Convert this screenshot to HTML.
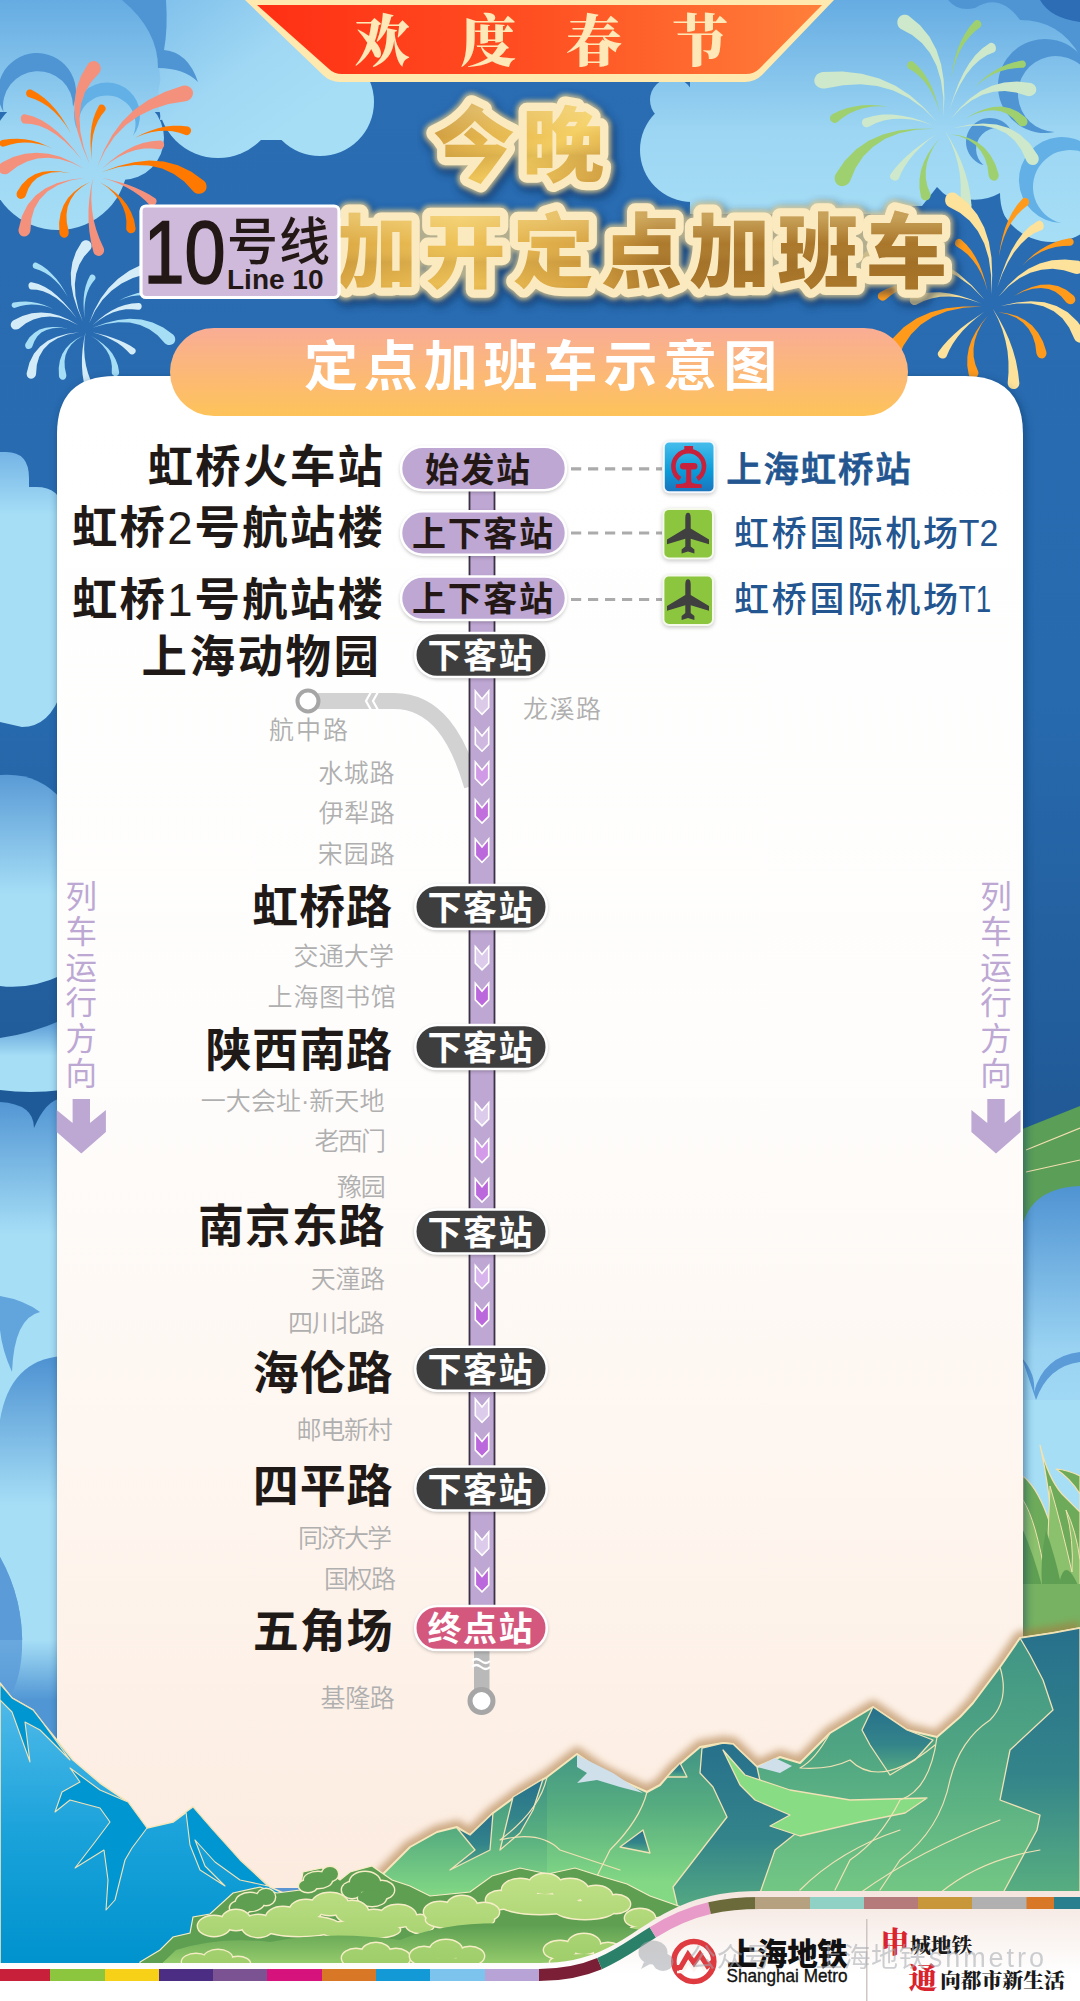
<!DOCTYPE html>
<html lang="zh-CN">
<head>
<meta charset="utf-8">
<title>10号线 定点加班车示意图</title>
<style>
html,body{margin:0;padding:0;background:#2a6cb0;}
body{width:1080px;height:2001px;overflow:hidden;position:relative;font-family:"Liberation Sans", "Noto Sans CJK SC", sans-serif;}
svg{display:block;position:absolute;left:0;top:0;}
text{font-family:"Liberation Sans", "Noto Sans CJK SC", sans-serif;}
.serif{font-family:"Liberation Serif", "Noto Serif CJK SC", serif;}
</style>
</head>
<body>
<svg width="1080" height="2001" viewBox="0 0 1080 2001">
<defs>
<linearGradient id="gBg" x1="0" y1="0" x2="0" y2="1">
 <stop offset="0" stop-color="#2a6db3"/><stop offset="0.35" stop-color="#276aae"/><stop offset="0.55" stop-color="#215a97"/><stop offset="1" stop-color="#215a97"/>
</linearGradient>
<linearGradient id="gCloudT" x1="0" y1="0" x2="0" y2="240" gradientUnits="userSpaceOnUse">
 <stop offset="0" stop-color="#66acE2"/><stop offset="0.55" stop-color="#9dd6f3"/><stop offset="1" stop-color="#a6def6"/>
</linearGradient>
<linearGradient id="gBanner" x1="0" y1="0" x2="1" y2="0">
 <stop offset="0" stop-color="#ff2f14"/><stop offset="0.5" stop-color="#ff5022"/><stop offset="1" stop-color="#ff7f3a"/>
</linearGradient>
<linearGradient id="gGold" x1="0.1" y1="0" x2="0.25" y2="1">
 <stop offset="0" stop-color="#f3d98e"/><stop offset="0.22" stop-color="#d3a348"/><stop offset="0.48" stop-color="#a6732a"/><stop offset="0.78" stop-color="#a87830"/><stop offset="1" stop-color="#c79c4c"/>
</linearGradient>
<linearGradient id="gPill" x1="0" y1="0" x2="0" y2="1">
 <stop offset="0" stop-color="#f9ad95"/><stop offset="1" stop-color="#fec35a"/>
</linearGradient>
<linearGradient id="gCard" x1="0" y1="378" x2="0" y2="1900" gradientUnits="userSpaceOnUse">
 <stop offset="0" stop-color="#ffffff"/><stop offset="0.45" stop-color="#fefdfc"/><stop offset="0.75" stop-color="#fef5ee"/><stop offset="1" stop-color="#fcebdf"/>
</linearGradient>
<linearGradient id="gTrain" x1="0" y1="0" x2="0" y2="1">
 <stop offset="0" stop-color="#45bdec"/><stop offset="0.6" stop-color="#0a9ad8"/><stop offset="1" stop-color="#1c74bd"/>
</linearGradient>
<linearGradient id="gBlueMt" x1="0" y1="1680" x2="0" y2="1960" gradientUnits="userSpaceOnUse">
 <stop offset="0" stop-color="#56bdeb"/><stop offset="0.55" stop-color="#1aa2da"/><stop offset="1" stop-color="#0093ce"/>
</linearGradient>
<linearGradient id="gGreenMt" x1="0" y1="1640" x2="0" y2="1960" gradientUnits="userSpaceOnUse">
 <stop offset="0" stop-color="#3c8f86"/><stop offset="0.5" stop-color="#58ad7c"/><stop offset="1" stop-color="#86d884"/>
</linearGradient>
<linearGradient id="gGreenMt2" x1="0" y1="1640" x2="0" y2="1960" gradientUnits="userSpaceOnUse">
 <stop offset="0" stop-color="#2a7a8a"/><stop offset="0.6" stop-color="#3f9685"/><stop offset="1" stop-color="#6cc283"/>
</linearGradient>
<linearGradient id="gBush" x1="0" y1="1870" x2="0" y2="1970" gradientUnits="userSpaceOnUse">
 <stop offset="0" stop-color="#c2e288"/><stop offset="1" stop-color="#9ccc68"/>
</linearGradient>
<linearGradient id="gSideCloud" x1="0" y1="0" x2="0" y2="1">
 <stop offset="0" stop-color="#4f93d2"/><stop offset="0.6" stop-color="#9ad3f2"/><stop offset="1" stop-color="#a6def6"/>
</linearGradient>
<linearGradient id="gFwBlue" x1="0" y1="0" x2="1" y2="0">
 <stop offset="0" stop-color="#ffffff"/><stop offset="1" stop-color="#a6def6"/>
</linearGradient>
<filter id="fShadow" x="-10%" y="-10%" width="120%" height="120%">
 <feGaussianBlur stdDeviation="5"/>
</filter>
<filter id="fSoft" x="-20%" y="-20%" width="140%" height="140%">
 <feGaussianBlur stdDeviation="2"/>
</filter>
<filter id="fSoft3" x="-20%" y="-20%" width="140%" height="140%">
 <feGaussianBlur stdDeviation="3.5"/>
</filter>
<filter id="fTitle" x="-10%" y="-20%" width="120%" height="150%">
 <feGaussianBlur stdDeviation="4"/>
</filter>
</defs>
<rect x="0" y="0" width="1080" height="2001" fill="url(#gBg)"/>
<linearGradient id="gCloudT2" x1="150" y1="0" x2="260" y2="150" gradientUnits="userSpaceOnUse"><stop offset="0" stop-color="#7fbfeb"/><stop offset="0.6" stop-color="#a0d8f4"/><stop offset="1" stop-color="#a6def6"/></linearGradient><g id="cloudTL" fill="url(#gCloudT)"><rect x="0" y="0" width="200" height="112"/><circle cx="58" cy="160" r="70"/><circle cx="122" cy="138" r="42"/></g><g fill="url(#gCloudT2)"><path d="M140 0 L340 0 L340 100 L160 120 Q166 60 140 0 Z"/><circle cx="218" cy="98" r="60"/><circle cx="320" cy="102" r="54"/><rect x="240" y="100" width="60" height="40"/></g>
<path d="M3.5 112.0 A39 39 0 1 1 73.0 107.0 A35 35 0 1 0 3.5 112.0 Z" fill="#4f95d3" /><path d="M81.2 136.0 A33 33 0 1 1 132.8 136.0 A28.5 28.5 0 1 0 81.2 136.0 Z" fill="#62b0e6" /><path d="M122 0 L166 0 Q168 28 164 50 Q188 52 198 82 Q184 68 158 68 Q158 30 122 0 Z" fill="#4f95d3"/>
<g id="cloudTR" fill="url(#gCloudT)"><rect x="690" y="0" width="390" height="206"/><rect x="690" y="200" width="212" height="14"/><circle cx="692" cy="150" r="52"/><circle cx="672" cy="100" r="22"/><circle cx="1052" cy="186" r="56"/><rect x="1000" y="180" width="80" height="36"/></g>
<path d="M900 206 L922 206 L937 187 Q952 204 966 199 Q984 202 1000 193 Q1000 215 1014 230 Q1030 245 1060 243 L1080 240 L1080 330 L900 330 Z" fill="#2a6cb2"/>
<path d="M948 0 Q958 12 975 8 Q1000 -8 1020 20 Q1060 20 1080 56 L1080 0 Z" fill="#4f95d3"/>
<path d="M1040 0 Q1050 18 1080 22 L1080 0 Z" fill="#2c6db5"/>
<path d="M1054.7 132.0 A47 47 0 1 1 1091.7 81.1 A38 38 0 1 0 1054.7 132.0 Z" fill="#4f95d3" /><path d="M983.5 165.1 A24 24 0 1 1 1013.1 135.5 A21 21 0 1 0 983.5 165.1 Z" fill="#4f95d3" /><path d="M1061.4 223.0 A43 43 0 1 1 1104.5 173.7 A37 37 0 1 0 1061.4 223.0 Z" fill="#62b0e6" /><linearGradient id="gL1" x1="0" y1="452" x2="0" y2="515" gradientUnits="userSpaceOnUse"><stop offset="0" stop-color="#74b4e6"/><stop offset="1" stop-color="#a6def6"/></linearGradient><linearGradient id="gL2" x1="0" y1="775" x2="0" y2="895" gradientUnits="userSpaceOnUse"><stop offset="0" stop-color="#5a9bd6"/><stop offset="1" stop-color="#a6def6"/></linearGradient><linearGradient id="gL3" x1="0" y1="1022" x2="0" y2="1056" gradientUnits="userSpaceOnUse"><stop offset="0" stop-color="#5a9bd6"/><stop offset="1" stop-color="#a6def6"/></linearGradient><linearGradient id="gL4" x1="0" y1="1096" x2="0" y2="1235" gradientUnits="userSpaceOnUse"><stop offset="0" stop-color="#4f93d2"/><stop offset="1" stop-color="#a6def6"/></linearGradient><linearGradient id="gL5" x1="0" y1="1360" x2="0" y2="1505" gradientUnits="userSpaceOnUse"><stop offset="0" stop-color="#4f93d2"/><stop offset="1" stop-color="#a6def6"/></linearGradient><linearGradient id="gL6" x1="0" y1="1640" x2="0" y2="1700" gradientUnits="userSpaceOnUse"><stop offset="0" stop-color="#a6def6"/><stop offset="1" stop-color="#5196d4"/></linearGradient><g id="leftStrip"><path d="M0 452 L6 452 Q29 452 29 478 L29 487 L36 487 Q62 487 62 512 L62 690 Q50 727 22 727 L0 722 Z" fill="url(#gL1)"/><path d="M0 775 Q38 772 62 800 L62 975 Q30 990 0 986 Z" fill="url(#gL2)"/><path d="M0 1038 Q30 1034 62 1020 L62 1100 L0 1100 Z" fill="url(#gL3)"/><rect x="0" y="1094" width="62" height="600" fill="url(#gL4)"/><path d="M0 1090 Q30 1094 62 1090 L62 1098 Q46 1100 34 1128 Q34 1104 0 1102 Z" fill="#1f5a98"/><path d="M0 1296 Q24 1300 40 1312 Q14 1318 12 1372 Q2 1350 0 1330 Z" fill="#62a4dc"/><path d="M0 1420 Q10 1360 62 1356 L62 1560 L0 1560 Z" fill="url(#gL5)"/><path d="M0 1557 Q24 1600 22 1650 Q20 1690 0 1710 Z" fill="#5a9bd8"/><rect x="0" y="1640" width="62" height="170" fill="url(#gL6)"/><path d="M0 1557 Q24 1600 22 1650 Q20 1690 0 1710 Z" fill="#5a9bd8" opacity="0.8"/></g>
<g id="rightStrip"><path d="M1020 1130 L1080 1106 L1080 1200 L1020 1240 Z" fill="#5a9e58"/><path d="M1026 1150 L1080 1128 M1026 1172 L1080 1160" stroke="#f3dfae" stroke-width="1.2" fill="none"/><path d="M1020 1240 Q1024 1188 1080 1186 L1080 1460 L1020 1460 Z" fill="url(#gSideCloud)"/><path d="M1022 1358 Q1036 1374 1034 1392 Q1044 1356 1080 1352 L1080 1362 Q1048 1366 1036 1400 Z" fill="#5a9bd8"/><rect x="1020" y="1400" width="60" height="70" fill="#a6def6"/></g>
<g id="grass" stroke-linejoin="round"><rect x="1023" y="1460" width="57" height="190" fill="#a6def6"/><path d="M1023 1476 Q1040 1490 1052 1530 Q1050 1490 1040 1445 Q1048 1478 1062 1494 Q1074 1506 1080 1512 L1080 1476 Q1068 1470 1056 1469 Q1070 1478 1080 1494 L1080 1650 L1023 1650 Z" fill="#6dab5b" stroke="#f3e2b0" stroke-width="1.2"/><path d="M1023 1500 Q1036 1520 1046 1580 Q1048 1540 1050 1486 Q1060 1520 1072 1572 Q1074 1540 1066 1510 Q1076 1530 1080 1560 L1080 1650 L1023 1650 Z" fill="#8bc06c" stroke="#f3e2b0" stroke-width="1"/><path d="M1023 1530 Q1034 1556 1042 1586 Q1040 1560 1046 1530 Q1056 1560 1060 1580 Q1066 1556 1080 1590 L1080 1650 L1023 1650 Z" fill="#5f9f54"/><rect x="1023" y="1584" width="57" height="66" fill="#77b262"/></g>

<g transform="translate(93 171) rotate(0) scale(1.000 1.000)"><path d="M-3.3 -6.7 L-9.3 -23.6 L-12.7 -39.5 L-13.5 -54.1 L-11.8 -67.3 L-7.9 -78.9 L-1.8 -89.1 L6.2 -98.0 L7.2 -99.7 L7.7 -101.6 L7.6 -103.8 L6.9 -105.9 L5.6 -107.8 L3.7 -109.2 L1.6 -109.9 L-0.7 -109.8 L-2.9 -109.0 L-4.7 -107.5 L-12.0 -95.1 L-16.6 -81.9 L-18.6 -68.2 L-18.1 -53.9 L-15.3 -39.0 L-10.3 -23.3 L-3.3 -6.7Z" fill="#f4917c"/><path d="M-22.2 -37.8 L-26.9 -46.3 L-31.8 -54.0 L-37.0 -61.0 L-42.6 -67.2 L-48.5 -72.7 L-55.0 -77.5 L-61.9 -81.4 L-63.1 -81.6 L-64.2 -81.5 L-65.3 -80.9 L-66.1 -80.0 L-66.7 -78.9 L-66.9 -77.7 L-66.7 -76.5 L-66.3 -75.4 L-65.6 -74.6 L-64.7 -74.0 L-58.0 -71.8 L-51.4 -68.6 L-45.0 -64.5 L-38.8 -59.3 L-32.9 -53.1 L-27.4 -46.0 L-22.2 -37.8Z" fill="#ff7800"/><path d="M-1.1 -11.1 L-1.5 -20.2 L-1.0 -28.6 L0.2 -36.4 L2.2 -43.5 L4.9 -49.9 L8.2 -55.5 L12.2 -60.5 L12.6 -61.4 L12.7 -62.5 L12.5 -63.6 L11.9 -64.6 L11.1 -65.6 L10.1 -66.2 L8.9 -66.5 L7.7 -66.4 L6.6 -65.9 L5.8 -65.1 L2.6 -58.6 L0.2 -51.7 L-1.4 -44.4 L-2.3 -36.7 L-2.5 -28.7 L-2.1 -20.1 L-1.1 -11.1Z" fill="#ff7800"/><path d="M4.4 -4.4 L12.1 -20.6 L21.6 -34.4 L32.9 -45.9 L45.6 -55.1 L59.9 -62.1 L75.5 -66.9 L92.6 -69.7 L95.1 -70.6 L97.3 -72.1 L98.9 -74.1 L99.9 -76.4 L100.0 -78.9 L99.2 -81.2 L97.6 -83.2 L95.4 -84.7 L92.6 -85.4 L89.7 -85.3 L71.6 -79.1 L55.4 -71.1 L41.3 -61.2 L29.3 -49.5 L19.3 -36.1 L11.1 -21.1 L4.4 -4.4Z" fill="#f4917c"/><path d="M42.2 -33.3 L50.2 -36.6 L58.0 -38.8 L65.5 -40.0 L72.8 -40.3 L79.7 -39.7 L86.3 -38.2 L92.6 -36.0 L93.8 -35.8 L95.0 -36.1 L96.2 -36.7 L97.1 -37.7 L97.8 -38.9 L98.1 -40.2 L97.9 -41.6 L97.3 -42.9 L96.3 -43.8 L95.0 -44.4 L87.5 -45.3 L79.9 -45.3 L72.5 -44.4 L65.0 -42.8 L57.5 -40.3 L49.9 -37.2 L42.2 -33.3Z" fill="#ff7800"/><path d="M8.9 -2.2 L17.4 -8.9 L25.9 -14.3 L34.4 -18.3 L42.8 -21.0 L51.0 -22.4 L59.0 -22.6 L66.7 -21.7 L67.9 -21.8 L69.0 -22.3 L70.0 -23.1 L70.7 -24.2 L71.1 -25.6 L71.1 -26.9 L70.7 -28.2 L69.9 -29.3 L68.8 -30.1 L67.5 -30.5 L58.6 -29.8 L49.9 -28.0 L41.5 -25.0 L33.2 -20.8 L25.1 -15.7 L17.0 -9.5 L8.9 -2.2Z" fill="#f4917c"/><path d="M8.9 1.1 L25.7 -3.9 L41.5 -6.1 L56.0 -5.6 L69.1 -2.5 L80.8 2.9 L91.2 10.6 L100.4 20.5 L102.2 21.9 L104.4 22.7 L106.7 22.8 L109.1 22.3 L111.1 21.1 L112.7 19.3 L113.5 17.0 L113.5 14.5 L112.8 12.1 L111.2 9.9 L98.4 0.7 L84.9 -5.8 L70.8 -9.4 L56.2 -10.4 L41.1 -8.8 L25.4 -5.0 L8.9 1.1Z" fill="#ff7800"/><path d="M-11.1 -11.1 L-19.3 -21.7 L-27.3 -31.0 L-35.3 -39.0 L-43.2 -45.5 L-51.3 -50.7 L-59.6 -54.5 L-68.2 -56.8 L-69.5 -56.7 L-70.6 -56.1 L-71.5 -55.0 L-72.1 -53.7 L-72.2 -52.2 L-72.0 -50.8 L-71.5 -49.4 L-70.8 -48.4 L-69.9 -47.7 L-68.9 -47.4 L-61.5 -47.1 L-53.7 -45.2 L-45.6 -41.7 L-37.1 -36.6 L-28.5 -29.8 L-19.8 -21.3 L-11.1 -11.1Z" fill="#f4917c"/><path d="M-40.0 -22.2 L-47.0 -25.6 L-54.1 -28.4 L-61.2 -30.4 L-68.5 -31.8 L-75.8 -32.3 L-83.3 -32.1 L-90.9 -31.0 L-91.9 -30.6 L-92.8 -29.8 L-93.3 -28.8 L-93.5 -27.7 L-93.3 -26.7 L-92.8 -25.7 L-92.1 -24.9 L-91.1 -24.4 L-90.1 -24.2 L-89.0 -24.4 L-82.3 -26.5 L-75.5 -27.9 L-68.6 -28.5 L-61.6 -28.3 L-54.4 -27.1 L-47.2 -25.2 L-40.0 -22.2Z" fill="#ff7800"/><path d="M-8.9 -2.2 L-20.9 -9.1 L-32.7 -14.2 L-44.5 -17.3 L-56.2 -18.3 L-68.0 -17.3 L-79.9 -13.9 L-91.6 -8.2 L-93.2 -6.6 L-94.3 -4.7 L-94.7 -2.6 L-94.3 -0.6 L-93.3 1.1 L-91.8 2.4 L-90.0 3.1 L-88.0 3.3 L-86.0 3.0 L-84.3 2.1 L-75.4 -4.7 L-65.9 -9.5 L-55.7 -12.4 L-44.9 -13.3 L-33.4 -11.9 L-21.3 -8.3 L-8.9 -2.2Z" fill="#f4917c"/><path d="M-22.2 2.2 L-32.5 0.4 L-41.8 -0.1 L-50.3 0.8 L-58.1 3.3 L-65.0 7.5 L-71.1 13.4 L-76.0 21.1 L-76.4 22.8 L-76.3 24.5 L-75.7 26.0 L-74.7 27.1 L-73.3 27.8 L-71.9 27.9 L-70.4 27.6 L-69.1 26.9 L-68.0 25.9 L-67.3 24.7 L-64.6 17.6 L-60.9 11.8 L-55.9 7.1 L-49.5 3.7 L-41.7 1.6 L-32.6 1.1 L-22.2 2.2Z" fill="#ff7800"/><path d="M-7.8 6.7 L-23.0 8.7 L-36.3 12.2 L-47.8 17.5 L-57.4 24.6 L-65.3 33.8 L-71.0 45.1 L-74.5 58.4 L-74.4 60.6 L-73.7 62.6 L-72.4 64.2 L-70.7 65.2 L-68.9 65.6 L-67.0 65.2 L-65.3 64.3 L-64.0 63.0 L-63.0 61.3 L-62.6 59.5 L-61.6 47.8 L-58.6 37.5 L-53.3 28.4 L-45.6 20.6 L-35.4 14.3 L-22.8 9.6 L-7.8 6.7Z" fill="#f4917c"/><path d="M-3.3 11.1 L-11.9 15.6 L-19.1 20.9 L-25.0 27.1 L-29.4 34.2 L-32.4 42.5 L-33.9 51.8 L-33.6 62.0 L-33.1 63.8 L-32.1 65.2 L-30.7 66.3 L-29.3 66.8 L-27.8 66.7 L-26.4 66.0 L-25.3 64.9 L-24.6 63.5 L-24.3 61.9 L-24.3 60.3 L-26.2 51.6 L-26.5 43.4 L-25.3 35.8 L-22.4 28.7 L-17.9 22.1 L-11.5 16.2 L-3.3 11.1Z" fill="#ff7800"/><path d="M0.0 6.7 L-2.2 17.5 L-3.7 28.2 L-4.5 38.8 L-4.5 49.4 L-3.7 60.0 L-2.0 70.7 L0.5 81.3 L1.4 82.9 L2.8 84.1 L4.4 84.7 L6.1 84.9 L7.8 84.4 L9.2 83.5 L10.3 82.2 L11.0 80.6 L11.1 78.9 L10.8 77.3 L6.6 68.1 L3.2 58.6 L0.6 48.8 L-1.0 38.7 L-1.7 28.3 L-1.4 17.6 L0.0 6.7Z" fill="#f4917c"/><path d="M6.7 11.1 L14.7 16.6 L21.2 22.7 L26.3 29.1 L30.0 35.9 L32.4 42.9 L33.4 50.1 L33.2 57.5 L33.4 58.8 L34.1 60.1 L35.1 61.1 L36.3 61.9 L37.8 62.2 L39.3 62.1 L40.6 61.4 L41.7 60.4 L42.4 58.9 L42.6 57.4 L41.0 48.8 L38.0 40.9 L33.9 33.7 L28.7 27.2 L22.4 21.4 L15.1 16.1 L6.7 11.1Z" fill="#ff7800"/><path d="M8.9 6.7 L17.9 9.5 L26.2 12.8 L33.8 16.4 L40.6 20.4 L46.7 24.7 L52.0 29.3 L56.6 34.1 L57.5 34.6 L58.7 34.8 L59.9 34.7 L61.1 34.2 L62.2 33.3 L63.1 32.2 L63.5 31.0 L63.6 29.7 L63.2 28.5 L62.5 27.5 L56.3 23.5 L49.6 19.9 L42.5 16.7 L34.9 13.8 L26.7 11.2 L18.1 8.9 L8.9 6.7Z" fill="#f4917c"/></g>
<g transform="translate(85.5 327) rotate(0) scale(0.790 0.790)"><path d="M-3.3 -6.7 L-9.3 -23.6 L-12.7 -39.5 L-13.5 -54.1 L-11.8 -67.3 L-7.9 -78.9 L-1.8 -89.1 L6.2 -98.0 L7.2 -99.7 L7.7 -101.6 L7.6 -103.8 L6.9 -105.9 L5.6 -107.8 L3.7 -109.2 L1.6 -109.9 L-0.7 -109.8 L-2.9 -109.0 L-4.7 -107.5 L-12.0 -95.1 L-16.6 -81.9 L-18.6 -68.2 L-18.1 -53.9 L-15.3 -39.0 L-10.3 -23.3 L-3.3 -6.7Z" fill="#d4ecf8"/><path d="M-22.2 -37.8 L-26.9 -46.3 L-31.8 -54.0 L-37.0 -61.0 L-42.6 -67.2 L-48.5 -72.7 L-55.0 -77.5 L-61.9 -81.4 L-63.1 -81.6 L-64.2 -81.5 L-65.3 -80.9 L-66.1 -80.0 L-66.7 -78.9 L-66.9 -77.7 L-66.7 -76.5 L-66.3 -75.4 L-65.6 -74.6 L-64.7 -74.0 L-58.0 -71.8 L-51.4 -68.6 L-45.0 -64.5 L-38.8 -59.3 L-32.9 -53.1 L-27.4 -46.0 L-22.2 -37.8Z" fill="#a6def6"/><path d="M-1.1 -11.1 L-1.5 -20.2 L-1.0 -28.6 L0.2 -36.4 L2.2 -43.5 L4.9 -49.9 L8.2 -55.5 L12.2 -60.5 L12.6 -61.4 L12.7 -62.5 L12.5 -63.6 L11.9 -64.6 L11.1 -65.6 L10.1 -66.2 L8.9 -66.5 L7.7 -66.4 L6.6 -65.9 L5.8 -65.1 L2.6 -58.6 L0.2 -51.7 L-1.4 -44.4 L-2.3 -36.7 L-2.5 -28.7 L-2.1 -20.1 L-1.1 -11.1Z" fill="#a6def6"/><path d="M4.4 -4.4 L12.1 -20.6 L21.6 -34.4 L32.9 -45.9 L45.6 -55.1 L59.9 -62.1 L75.5 -66.9 L92.6 -69.7 L95.1 -70.6 L97.3 -72.1 L98.9 -74.1 L99.9 -76.4 L100.0 -78.9 L99.2 -81.2 L97.6 -83.2 L95.4 -84.7 L92.6 -85.4 L89.7 -85.3 L71.6 -79.1 L55.4 -71.1 L41.3 -61.2 L29.3 -49.5 L19.3 -36.1 L11.1 -21.1 L4.4 -4.4Z" fill="#d4ecf8"/><path d="M42.2 -33.3 L50.2 -36.6 L58.0 -38.8 L65.5 -40.0 L72.8 -40.3 L79.7 -39.7 L86.3 -38.2 L92.6 -36.0 L93.8 -35.8 L95.0 -36.1 L96.2 -36.7 L97.1 -37.7 L97.8 -38.9 L98.1 -40.2 L97.9 -41.6 L97.3 -42.9 L96.3 -43.8 L95.0 -44.4 L87.5 -45.3 L79.9 -45.3 L72.5 -44.4 L65.0 -42.8 L57.5 -40.3 L49.9 -37.2 L42.2 -33.3Z" fill="#a6def6"/><path d="M8.9 -2.2 L17.4 -8.9 L25.9 -14.3 L34.4 -18.3 L42.8 -21.0 L51.0 -22.4 L59.0 -22.6 L66.7 -21.7 L67.9 -21.8 L69.0 -22.3 L70.0 -23.1 L70.7 -24.2 L71.1 -25.6 L71.1 -26.9 L70.7 -28.2 L69.9 -29.3 L68.8 -30.1 L67.5 -30.5 L58.6 -29.8 L49.9 -28.0 L41.5 -25.0 L33.2 -20.8 L25.1 -15.7 L17.0 -9.5 L8.9 -2.2Z" fill="#d4ecf8"/><path d="M8.9 1.1 L25.7 -3.9 L41.5 -6.1 L56.0 -5.6 L69.1 -2.5 L80.8 2.9 L91.2 10.6 L100.4 20.5 L102.2 21.9 L104.4 22.7 L106.7 22.8 L109.1 22.3 L111.1 21.1 L112.7 19.3 L113.5 17.0 L113.5 14.5 L112.8 12.1 L111.2 9.9 L98.4 0.7 L84.9 -5.8 L70.8 -9.4 L56.2 -10.4 L41.1 -8.8 L25.4 -5.0 L8.9 1.1Z" fill="#a6def6"/><path d="M-11.1 -11.1 L-19.3 -21.7 L-27.3 -31.0 L-35.3 -39.0 L-43.2 -45.5 L-51.3 -50.7 L-59.6 -54.5 L-68.2 -56.8 L-69.5 -56.7 L-70.6 -56.1 L-71.5 -55.0 L-72.1 -53.7 L-72.2 -52.2 L-72.0 -50.8 L-71.5 -49.4 L-70.8 -48.4 L-69.9 -47.7 L-68.9 -47.4 L-61.5 -47.1 L-53.7 -45.2 L-45.6 -41.7 L-37.1 -36.6 L-28.5 -29.8 L-19.8 -21.3 L-11.1 -11.1Z" fill="#d4ecf8"/><path d="M-40.0 -22.2 L-47.0 -25.6 L-54.1 -28.4 L-61.2 -30.4 L-68.5 -31.8 L-75.8 -32.3 L-83.3 -32.1 L-90.9 -31.0 L-91.9 -30.6 L-92.8 -29.8 L-93.3 -28.8 L-93.5 -27.7 L-93.3 -26.7 L-92.8 -25.7 L-92.1 -24.9 L-91.1 -24.4 L-90.1 -24.2 L-89.0 -24.4 L-82.3 -26.5 L-75.5 -27.9 L-68.6 -28.5 L-61.6 -28.3 L-54.4 -27.1 L-47.2 -25.2 L-40.0 -22.2Z" fill="#a6def6"/><path d="M-8.9 -2.2 L-20.9 -9.1 L-32.7 -14.2 L-44.5 -17.3 L-56.2 -18.3 L-68.0 -17.3 L-79.9 -13.9 L-91.6 -8.2 L-93.2 -6.6 L-94.3 -4.7 L-94.7 -2.6 L-94.3 -0.6 L-93.3 1.1 L-91.8 2.4 L-90.0 3.1 L-88.0 3.3 L-86.0 3.0 L-84.3 2.1 L-75.4 -4.7 L-65.9 -9.5 L-55.7 -12.4 L-44.9 -13.3 L-33.4 -11.9 L-21.3 -8.3 L-8.9 -2.2Z" fill="#d4ecf8"/><path d="M-22.2 2.2 L-32.5 0.4 L-41.8 -0.1 L-50.3 0.8 L-58.1 3.3 L-65.0 7.5 L-71.1 13.4 L-76.0 21.1 L-76.4 22.8 L-76.3 24.5 L-75.7 26.0 L-74.7 27.1 L-73.3 27.8 L-71.9 27.9 L-70.4 27.6 L-69.1 26.9 L-68.0 25.9 L-67.3 24.7 L-64.6 17.6 L-60.9 11.8 L-55.9 7.1 L-49.5 3.7 L-41.7 1.6 L-32.6 1.1 L-22.2 2.2Z" fill="#a6def6"/><path d="M-7.8 6.7 L-23.0 8.7 L-36.3 12.2 L-47.8 17.5 L-57.4 24.6 L-65.3 33.8 L-71.0 45.1 L-74.5 58.4 L-74.4 60.6 L-73.7 62.6 L-72.4 64.2 L-70.7 65.2 L-68.9 65.6 L-67.0 65.2 L-65.3 64.3 L-64.0 63.0 L-63.0 61.3 L-62.6 59.5 L-61.6 47.8 L-58.6 37.5 L-53.3 28.4 L-45.6 20.6 L-35.4 14.3 L-22.8 9.6 L-7.8 6.7Z" fill="#d4ecf8"/><path d="M-3.3 11.1 L-11.9 15.6 L-19.1 20.9 L-25.0 27.1 L-29.4 34.2 L-32.4 42.5 L-33.9 51.8 L-33.6 62.0 L-33.1 63.8 L-32.1 65.2 L-30.7 66.3 L-29.3 66.8 L-27.8 66.7 L-26.4 66.0 L-25.3 64.9 L-24.6 63.5 L-24.3 61.9 L-24.3 60.3 L-26.2 51.6 L-26.5 43.4 L-25.3 35.8 L-22.4 28.7 L-17.9 22.1 L-11.5 16.2 L-3.3 11.1Z" fill="#a6def6"/><path d="M0.0 6.7 L-2.2 17.5 L-3.7 28.2 L-4.5 38.8 L-4.5 49.4 L-3.7 60.0 L-2.0 70.7 L0.5 81.3 L1.4 82.9 L2.8 84.1 L4.4 84.7 L6.1 84.9 L7.8 84.4 L9.2 83.5 L10.3 82.2 L11.0 80.6 L11.1 78.9 L10.8 77.3 L6.6 68.1 L3.2 58.6 L0.6 48.8 L-1.0 38.7 L-1.7 28.3 L-1.4 17.6 L0.0 6.7Z" fill="#d4ecf8"/><path d="M6.7 11.1 L14.7 16.6 L21.2 22.7 L26.3 29.1 L30.0 35.9 L32.4 42.9 L33.4 50.1 L33.2 57.5 L33.4 58.8 L34.1 60.1 L35.1 61.1 L36.3 61.9 L37.8 62.2 L39.3 62.1 L40.6 61.4 L41.7 60.4 L42.4 58.9 L42.6 57.4 L41.0 48.8 L38.0 40.9 L33.9 33.7 L28.7 27.2 L22.4 21.4 L15.1 16.1 L6.7 11.1Z" fill="#a6def6"/><path d="M8.9 6.7 L17.9 9.5 L26.2 12.8 L33.8 16.4 L40.6 20.4 L46.7 24.7 L52.0 29.3 L56.6 34.1 L57.5 34.6 L58.7 34.8 L59.9 34.7 L61.1 34.2 L62.2 33.3 L63.1 32.2 L63.5 31.0 L63.6 29.7 L63.2 28.5 L62.5 27.5 L56.3 23.5 L49.6 19.9 L42.5 16.7 L34.9 13.8 L26.7 11.2 L18.1 8.9 L8.9 6.7Z" fill="#d4ecf8"/></g>
<g transform="translate(942.6 124.4) rotate(-20) scale(-1.060 1.060)"><path d="M-3.3 -6.7 L-9.3 -23.6 L-12.7 -39.5 L-13.5 -54.1 L-11.8 -67.3 L-7.9 -78.9 L-1.8 -89.1 L6.2 -98.0 L7.2 -99.7 L7.7 -101.6 L7.6 -103.8 L6.9 -105.9 L5.6 -107.8 L3.7 -109.2 L1.6 -109.9 L-0.7 -109.8 L-2.9 -109.0 L-4.7 -107.5 L-12.0 -95.1 L-16.6 -81.9 L-18.6 -68.2 L-18.1 -53.9 L-15.3 -39.0 L-10.3 -23.3 L-3.3 -6.7Z" fill="#cde8cb"/><path d="M-22.2 -37.8 L-26.9 -46.3 L-31.8 -54.0 L-37.0 -61.0 L-42.6 -67.2 L-48.5 -72.7 L-55.0 -77.5 L-61.9 -81.4 L-63.1 -81.6 L-64.2 -81.5 L-65.3 -80.9 L-66.1 -80.0 L-66.7 -78.9 L-66.9 -77.7 L-66.7 -76.5 L-66.3 -75.4 L-65.6 -74.6 L-64.7 -74.0 L-58.0 -71.8 L-51.4 -68.6 L-45.0 -64.5 L-38.8 -59.3 L-32.9 -53.1 L-27.4 -46.0 L-22.2 -37.8Z" fill="#9fd070"/><path d="M-1.1 -11.1 L-1.5 -20.2 L-1.0 -28.6 L0.2 -36.4 L2.2 -43.5 L4.9 -49.9 L8.2 -55.5 L12.2 -60.5 L12.6 -61.4 L12.7 -62.5 L12.5 -63.6 L11.9 -64.6 L11.1 -65.6 L10.1 -66.2 L8.9 -66.5 L7.7 -66.4 L6.6 -65.9 L5.8 -65.1 L2.6 -58.6 L0.2 -51.7 L-1.4 -44.4 L-2.3 -36.7 L-2.5 -28.7 L-2.1 -20.1 L-1.1 -11.1Z" fill="#9fd070"/><path d="M4.4 -4.4 L12.1 -20.6 L21.6 -34.4 L32.9 -45.9 L45.6 -55.1 L59.9 -62.1 L75.5 -66.9 L92.6 -69.7 L95.1 -70.6 L97.3 -72.1 L98.9 -74.1 L99.9 -76.4 L100.0 -78.9 L99.2 -81.2 L97.6 -83.2 L95.4 -84.7 L92.6 -85.4 L89.7 -85.3 L71.6 -79.1 L55.4 -71.1 L41.3 -61.2 L29.3 -49.5 L19.3 -36.1 L11.1 -21.1 L4.4 -4.4Z" fill="#cde8cb"/><path d="M42.2 -33.3 L50.2 -36.6 L58.0 -38.8 L65.5 -40.0 L72.8 -40.3 L79.7 -39.7 L86.3 -38.2 L92.6 -36.0 L93.8 -35.8 L95.0 -36.1 L96.2 -36.7 L97.1 -37.7 L97.8 -38.9 L98.1 -40.2 L97.9 -41.6 L97.3 -42.9 L96.3 -43.8 L95.0 -44.4 L87.5 -45.3 L79.9 -45.3 L72.5 -44.4 L65.0 -42.8 L57.5 -40.3 L49.9 -37.2 L42.2 -33.3Z" fill="#9fd070"/><path d="M8.9 -2.2 L17.4 -8.9 L25.9 -14.3 L34.4 -18.3 L42.8 -21.0 L51.0 -22.4 L59.0 -22.6 L66.7 -21.7 L67.9 -21.8 L69.0 -22.3 L70.0 -23.1 L70.7 -24.2 L71.1 -25.6 L71.1 -26.9 L70.7 -28.2 L69.9 -29.3 L68.8 -30.1 L67.5 -30.5 L58.6 -29.8 L49.9 -28.0 L41.5 -25.0 L33.2 -20.8 L25.1 -15.7 L17.0 -9.5 L8.9 -2.2Z" fill="#cde8cb"/><path d="M8.9 1.1 L25.7 -3.9 L41.5 -6.1 L56.0 -5.6 L69.1 -2.5 L80.8 2.9 L91.2 10.6 L100.4 20.5 L102.2 21.9 L104.4 22.7 L106.7 22.8 L109.1 22.3 L111.1 21.1 L112.7 19.3 L113.5 17.0 L113.5 14.5 L112.8 12.1 L111.2 9.9 L98.4 0.7 L84.9 -5.8 L70.8 -9.4 L56.2 -10.4 L41.1 -8.8 L25.4 -5.0 L8.9 1.1Z" fill="#9fd070"/><path d="M-11.1 -11.1 L-19.3 -21.7 L-27.3 -31.0 L-35.3 -39.0 L-43.2 -45.5 L-51.3 -50.7 L-59.6 -54.5 L-68.2 -56.8 L-69.5 -56.7 L-70.6 -56.1 L-71.5 -55.0 L-72.1 -53.7 L-72.2 -52.2 L-72.0 -50.8 L-71.5 -49.4 L-70.8 -48.4 L-69.9 -47.7 L-68.9 -47.4 L-61.5 -47.1 L-53.7 -45.2 L-45.6 -41.7 L-37.1 -36.6 L-28.5 -29.8 L-19.8 -21.3 L-11.1 -11.1Z" fill="#cde8cb"/><path d="M-40.0 -22.2 L-47.0 -25.6 L-54.1 -28.4 L-61.2 -30.4 L-68.5 -31.8 L-75.8 -32.3 L-83.3 -32.1 L-90.9 -31.0 L-91.9 -30.6 L-92.8 -29.8 L-93.3 -28.8 L-93.5 -27.7 L-93.3 -26.7 L-92.8 -25.7 L-92.1 -24.9 L-91.1 -24.4 L-90.1 -24.2 L-89.0 -24.4 L-82.3 -26.5 L-75.5 -27.9 L-68.6 -28.5 L-61.6 -28.3 L-54.4 -27.1 L-47.2 -25.2 L-40.0 -22.2Z" fill="#9fd070"/><path d="M-8.9 -2.2 L-20.9 -9.1 L-32.7 -14.2 L-44.5 -17.3 L-56.2 -18.3 L-68.0 -17.3 L-79.9 -13.9 L-91.6 -8.2 L-93.2 -6.6 L-94.3 -4.7 L-94.7 -2.6 L-94.3 -0.6 L-93.3 1.1 L-91.8 2.4 L-90.0 3.1 L-88.0 3.3 L-86.0 3.0 L-84.3 2.1 L-75.4 -4.7 L-65.9 -9.5 L-55.7 -12.4 L-44.9 -13.3 L-33.4 -11.9 L-21.3 -8.3 L-8.9 -2.2Z" fill="#cde8cb"/><path d="M-22.2 2.2 L-32.5 0.4 L-41.8 -0.1 L-50.3 0.8 L-58.1 3.3 L-65.0 7.5 L-71.1 13.4 L-76.0 21.1 L-76.4 22.8 L-76.3 24.5 L-75.7 26.0 L-74.7 27.1 L-73.3 27.8 L-71.9 27.9 L-70.4 27.6 L-69.1 26.9 L-68.0 25.9 L-67.3 24.7 L-64.6 17.6 L-60.9 11.8 L-55.9 7.1 L-49.5 3.7 L-41.7 1.6 L-32.6 1.1 L-22.2 2.2Z" fill="#9fd070"/><path d="M-7.8 6.7 L-23.0 8.7 L-36.3 12.2 L-47.8 17.5 L-57.4 24.6 L-65.3 33.8 L-71.0 45.1 L-74.5 58.4 L-74.4 60.6 L-73.7 62.6 L-72.4 64.2 L-70.7 65.2 L-68.9 65.6 L-67.0 65.2 L-65.3 64.3 L-64.0 63.0 L-63.0 61.3 L-62.6 59.5 L-61.6 47.8 L-58.6 37.5 L-53.3 28.4 L-45.6 20.6 L-35.4 14.3 L-22.8 9.6 L-7.8 6.7Z" fill="#cde8cb"/><path d="M-3.3 11.1 L-11.9 15.6 L-19.1 20.9 L-25.0 27.1 L-29.4 34.2 L-32.4 42.5 L-33.9 51.8 L-33.6 62.0 L-33.1 63.8 L-32.1 65.2 L-30.7 66.3 L-29.3 66.8 L-27.8 66.7 L-26.4 66.0 L-25.3 64.9 L-24.6 63.5 L-24.3 61.9 L-24.3 60.3 L-26.2 51.6 L-26.5 43.4 L-25.3 35.8 L-22.4 28.7 L-17.9 22.1 L-11.5 16.2 L-3.3 11.1Z" fill="#9fd070"/><path d="M0.0 6.7 L-2.2 17.5 L-3.7 28.2 L-4.5 38.8 L-4.5 49.4 L-3.7 60.0 L-2.0 70.7 L0.5 81.3 L1.4 82.9 L2.8 84.1 L4.4 84.7 L6.1 84.9 L7.8 84.4 L9.2 83.5 L10.3 82.2 L11.0 80.6 L11.1 78.9 L10.8 77.3 L6.6 68.1 L3.2 58.6 L0.6 48.8 L-1.0 38.7 L-1.7 28.3 L-1.4 17.6 L0.0 6.7Z" fill="#cde8cb"/><path d="M6.7 11.1 L14.7 16.6 L21.2 22.7 L26.3 29.1 L30.0 35.9 L32.4 42.9 L33.4 50.1 L33.2 57.5 L33.4 58.8 L34.1 60.1 L35.1 61.1 L36.3 61.9 L37.8 62.2 L39.3 62.1 L40.6 61.4 L41.7 60.4 L42.4 58.9 L42.6 57.4 L41.0 48.8 L38.0 40.9 L33.9 33.7 L28.7 27.2 L22.4 21.4 L15.1 16.1 L6.7 11.1Z" fill="#9fd070"/><path d="M8.9 6.7 L17.9 9.5 L26.2 12.8 L33.8 16.4 L40.6 20.4 L46.7 24.7 L52.0 29.3 L56.6 34.1 L57.5 34.6 L58.7 34.8 L59.9 34.7 L61.1 34.2 L62.2 33.3 L63.1 32.2 L63.5 31.0 L63.6 29.7 L63.2 28.5 L62.5 27.5 L56.3 23.5 L49.6 19.9 L42.5 16.7 L34.9 13.8 L26.7 11.2 L18.1 8.9 L8.9 6.7Z" fill="#cde8cb"/></g>
<g transform="translate(990.4 302.2) rotate(-20) scale(-1.060 1.060)"><path d="M-3.3 -6.7 L-9.3 -23.6 L-12.7 -39.5 L-13.5 -54.1 L-11.8 -67.3 L-7.9 -78.9 L-1.8 -89.1 L6.2 -98.0 L7.2 -99.7 L7.7 -101.6 L7.6 -103.8 L6.9 -105.9 L5.6 -107.8 L3.7 -109.2 L1.6 -109.9 L-0.7 -109.8 L-2.9 -109.0 L-4.7 -107.5 L-12.0 -95.1 L-16.6 -81.9 L-18.6 -68.2 L-18.1 -53.9 L-15.3 -39.0 L-10.3 -23.3 L-3.3 -6.7Z" fill="#fce29a"/><path d="M-22.2 -37.8 L-26.9 -46.3 L-31.8 -54.0 L-37.0 -61.0 L-42.6 -67.2 L-48.5 -72.7 L-55.0 -77.5 L-61.9 -81.4 L-63.1 -81.6 L-64.2 -81.5 L-65.3 -80.9 L-66.1 -80.0 L-66.7 -78.9 L-66.9 -77.7 L-66.7 -76.5 L-66.3 -75.4 L-65.6 -74.6 L-64.7 -74.0 L-58.0 -71.8 L-51.4 -68.6 L-45.0 -64.5 L-38.8 -59.3 L-32.9 -53.1 L-27.4 -46.0 L-22.2 -37.8Z" fill="#ff9a1a"/><path d="M-1.1 -11.1 L-1.5 -20.2 L-1.0 -28.6 L0.2 -36.4 L2.2 -43.5 L4.9 -49.9 L8.2 -55.5 L12.2 -60.5 L12.6 -61.4 L12.7 -62.5 L12.5 -63.6 L11.9 -64.6 L11.1 -65.6 L10.1 -66.2 L8.9 -66.5 L7.7 -66.4 L6.6 -65.9 L5.8 -65.1 L2.6 -58.6 L0.2 -51.7 L-1.4 -44.4 L-2.3 -36.7 L-2.5 -28.7 L-2.1 -20.1 L-1.1 -11.1Z" fill="#ff9a1a"/><path d="M4.4 -4.4 L12.1 -20.6 L21.6 -34.4 L32.9 -45.9 L45.6 -55.1 L59.9 -62.1 L75.5 -66.9 L92.6 -69.7 L95.1 -70.6 L97.3 -72.1 L98.9 -74.1 L99.9 -76.4 L100.0 -78.9 L99.2 -81.2 L97.6 -83.2 L95.4 -84.7 L92.6 -85.4 L89.7 -85.3 L71.6 -79.1 L55.4 -71.1 L41.3 -61.2 L29.3 -49.5 L19.3 -36.1 L11.1 -21.1 L4.4 -4.4Z" fill="#fce29a"/><path d="M42.2 -33.3 L50.2 -36.6 L58.0 -38.8 L65.5 -40.0 L72.8 -40.3 L79.7 -39.7 L86.3 -38.2 L92.6 -36.0 L93.8 -35.8 L95.0 -36.1 L96.2 -36.7 L97.1 -37.7 L97.8 -38.9 L98.1 -40.2 L97.9 -41.6 L97.3 -42.9 L96.3 -43.8 L95.0 -44.4 L87.5 -45.3 L79.9 -45.3 L72.5 -44.4 L65.0 -42.8 L57.5 -40.3 L49.9 -37.2 L42.2 -33.3Z" fill="#ff9a1a"/><path d="M8.9 -2.2 L17.4 -8.9 L25.9 -14.3 L34.4 -18.3 L42.8 -21.0 L51.0 -22.4 L59.0 -22.6 L66.7 -21.7 L67.9 -21.8 L69.0 -22.3 L70.0 -23.1 L70.7 -24.2 L71.1 -25.6 L71.1 -26.9 L70.7 -28.2 L69.9 -29.3 L68.8 -30.1 L67.5 -30.5 L58.6 -29.8 L49.9 -28.0 L41.5 -25.0 L33.2 -20.8 L25.1 -15.7 L17.0 -9.5 L8.9 -2.2Z" fill="#fce29a"/><path d="M8.9 1.1 L25.7 -3.9 L41.5 -6.1 L56.0 -5.6 L69.1 -2.5 L80.8 2.9 L91.2 10.6 L100.4 20.5 L102.2 21.9 L104.4 22.7 L106.7 22.8 L109.1 22.3 L111.1 21.1 L112.7 19.3 L113.5 17.0 L113.5 14.5 L112.8 12.1 L111.2 9.9 L98.4 0.7 L84.9 -5.8 L70.8 -9.4 L56.2 -10.4 L41.1 -8.8 L25.4 -5.0 L8.9 1.1Z" fill="#ff9a1a"/><path d="M-11.1 -11.1 L-19.3 -21.7 L-27.3 -31.0 L-35.3 -39.0 L-43.2 -45.5 L-51.3 -50.7 L-59.6 -54.5 L-68.2 -56.8 L-69.5 -56.7 L-70.6 -56.1 L-71.5 -55.0 L-72.1 -53.7 L-72.2 -52.2 L-72.0 -50.8 L-71.5 -49.4 L-70.8 -48.4 L-69.9 -47.7 L-68.9 -47.4 L-61.5 -47.1 L-53.7 -45.2 L-45.6 -41.7 L-37.1 -36.6 L-28.5 -29.8 L-19.8 -21.3 L-11.1 -11.1Z" fill="#fce29a"/><path d="M-40.0 -22.2 L-47.0 -25.6 L-54.1 -28.4 L-61.2 -30.4 L-68.5 -31.8 L-75.8 -32.3 L-83.3 -32.1 L-90.9 -31.0 L-91.9 -30.6 L-92.8 -29.8 L-93.3 -28.8 L-93.5 -27.7 L-93.3 -26.7 L-92.8 -25.7 L-92.1 -24.9 L-91.1 -24.4 L-90.1 -24.2 L-89.0 -24.4 L-82.3 -26.5 L-75.5 -27.9 L-68.6 -28.5 L-61.6 -28.3 L-54.4 -27.1 L-47.2 -25.2 L-40.0 -22.2Z" fill="#ff9a1a"/><path d="M-8.9 -2.2 L-20.9 -9.1 L-32.7 -14.2 L-44.5 -17.3 L-56.2 -18.3 L-68.0 -17.3 L-79.9 -13.9 L-91.6 -8.2 L-93.2 -6.6 L-94.3 -4.7 L-94.7 -2.6 L-94.3 -0.6 L-93.3 1.1 L-91.8 2.4 L-90.0 3.1 L-88.0 3.3 L-86.0 3.0 L-84.3 2.1 L-75.4 -4.7 L-65.9 -9.5 L-55.7 -12.4 L-44.9 -13.3 L-33.4 -11.9 L-21.3 -8.3 L-8.9 -2.2Z" fill="#fce29a"/><path d="M-22.2 2.2 L-32.5 0.4 L-41.8 -0.1 L-50.3 0.8 L-58.1 3.3 L-65.0 7.5 L-71.1 13.4 L-76.0 21.1 L-76.4 22.8 L-76.3 24.5 L-75.7 26.0 L-74.7 27.1 L-73.3 27.8 L-71.9 27.9 L-70.4 27.6 L-69.1 26.9 L-68.0 25.9 L-67.3 24.7 L-64.6 17.6 L-60.9 11.8 L-55.9 7.1 L-49.5 3.7 L-41.7 1.6 L-32.6 1.1 L-22.2 2.2Z" fill="#ff9a1a"/><path d="M-7.8 6.7 L-23.0 8.7 L-36.3 12.2 L-47.8 17.5 L-57.4 24.6 L-65.3 33.8 L-71.0 45.1 L-74.5 58.4 L-74.4 60.6 L-73.7 62.6 L-72.4 64.2 L-70.7 65.2 L-68.9 65.6 L-67.0 65.2 L-65.3 64.3 L-64.0 63.0 L-63.0 61.3 L-62.6 59.5 L-61.6 47.8 L-58.6 37.5 L-53.3 28.4 L-45.6 20.6 L-35.4 14.3 L-22.8 9.6 L-7.8 6.7Z" fill="#fce29a"/><path d="M-3.3 11.1 L-11.9 15.6 L-19.1 20.9 L-25.0 27.1 L-29.4 34.2 L-32.4 42.5 L-33.9 51.8 L-33.6 62.0 L-33.1 63.8 L-32.1 65.2 L-30.7 66.3 L-29.3 66.8 L-27.8 66.7 L-26.4 66.0 L-25.3 64.9 L-24.6 63.5 L-24.3 61.9 L-24.3 60.3 L-26.2 51.6 L-26.5 43.4 L-25.3 35.8 L-22.4 28.7 L-17.9 22.1 L-11.5 16.2 L-3.3 11.1Z" fill="#ff9a1a"/><path d="M0.0 6.7 L-2.2 17.5 L-3.7 28.2 L-4.5 38.8 L-4.5 49.4 L-3.7 60.0 L-2.0 70.7 L0.5 81.3 L1.4 82.9 L2.8 84.1 L4.4 84.7 L6.1 84.9 L7.8 84.4 L9.2 83.5 L10.3 82.2 L11.0 80.6 L11.1 78.9 L10.8 77.3 L6.6 68.1 L3.2 58.6 L0.6 48.8 L-1.0 38.7 L-1.7 28.3 L-1.4 17.6 L0.0 6.7Z" fill="#fce29a"/><path d="M6.7 11.1 L14.7 16.6 L21.2 22.7 L26.3 29.1 L30.0 35.9 L32.4 42.9 L33.4 50.1 L33.2 57.5 L33.4 58.8 L34.1 60.1 L35.1 61.1 L36.3 61.9 L37.8 62.2 L39.3 62.1 L40.6 61.4 L41.7 60.4 L42.4 58.9 L42.6 57.4 L41.0 48.8 L38.0 40.9 L33.9 33.7 L28.7 27.2 L22.4 21.4 L15.1 16.1 L6.7 11.1Z" fill="#ff9a1a"/><path d="M8.9 6.7 L17.9 9.5 L26.2 12.8 L33.8 16.4 L40.6 20.4 L46.7 24.7 L52.0 29.3 L56.6 34.1 L57.5 34.6 L58.7 34.8 L59.9 34.7 L61.1 34.2 L62.2 33.3 L63.1 32.2 L63.5 31.0 L63.6 29.7 L63.2 28.5 L62.5 27.5 L56.3 23.5 L49.6 19.9 L42.5 16.7 L34.9 13.8 L26.7 11.2 L18.1 8.9 L8.9 6.7Z" fill="#fce29a"/></g>
<path d="M245 0 L834 0 L762 75 Q755 82 745 82 L340 82 Q330 82 323 75 Z" fill="#ffe9ae"/>
<path d="M257 5 L822 5 L759 69 Q754 74 746 74 L342 74 Q334 74 329 69 Z" fill="url(#gBanner)"/>
<text class="serif" x="541" y="61" font-size="56" font-weight="900" fill="#ffe8b8" text-anchor="middle" letter-spacing="50"><tspan dx="25">欢度春节</tspan></text>
<linearGradient id="gGoldH" x1="0" y1="0" x2="1" y2="0"><stop offset="0" stop-color="#dca944"/><stop offset="0.2" stop-color="#eec258"/><stop offset="0.4" stop-color="#d9a543"/><stop offset="0.52" stop-color="#ad7a2d"/><stop offset="1" stop-color="#a87529"/></linearGradient><linearGradient id="gGoldJ" x1="0" y1="0.1" x2="1" y2="0.9"><stop offset="0" stop-color="#c08c36"/><stop offset="0.3" stop-color="#e2b24a"/><stop offset="0.6" stop-color="#f4cd60"/><stop offset="1" stop-color="#cf9c40"/></linearGradient><linearGradient id="gGoldV" x1="0" y1="0" x2="0" y2="1"><stop offset="0.1" stop-color="#fff0b0" stop-opacity="0.35"/><stop offset="0.4" stop-color="#fff0b0" stop-opacity="0"/><stop offset="0.6" stop-color="#6a4210" stop-opacity="0.12"/><stop offset="0.85" stop-color="#6a4210" stop-opacity="0"/><stop offset="1" stop-color="#fff0b0" stop-opacity="0.2"/></linearGradient><text x="522" y="175" font-size="82" text-anchor="middle" letter-spacing="7" font-weight="900" fill="#0b2c55" stroke="#0b2c55" stroke-width="26" stroke-linejoin="round" opacity="0.6" filter="url(#fTitle)" transform="translate(2 4)">今晚</text><text x="522" y="175" font-size="82" text-anchor="middle" letter-spacing="7" font-weight="900" fill="#f5dc98" stroke="#f5dc98" stroke-width="22" stroke-linejoin="round" opacity="0.7" filter="url(#fSoft)">今晚</text><text x="522" y="175" font-size="82" text-anchor="middle" letter-spacing="7" font-weight="900" fill="#fbeac0" stroke="#fbeac0" stroke-width="16.5" stroke-linejoin="round">今晚</text><text x="522" y="175" font-size="82" text-anchor="middle" letter-spacing="7" font-weight="900" fill="url(#gGoldJ)">今晚</text><text x="522" y="175" font-size="82" text-anchor="middle" letter-spacing="7" font-weight="900" fill="url(#gGoldV)">今晚</text>
<text x="645.2" y="281" font-size="81" text-anchor="middle" letter-spacing="7.3" font-weight="900" fill="#0b2c55" stroke="#0b2c55" stroke-width="26" stroke-linejoin="round" opacity="0.6" filter="url(#fTitle)" transform="translate(2 4)">加开定点加班车</text><text x="645.2" y="281" font-size="81" text-anchor="middle" letter-spacing="7.3" font-weight="900" fill="#f5dc98" stroke="#f5dc98" stroke-width="22" stroke-linejoin="round" opacity="0.7" filter="url(#fSoft)">加开定点加班车</text><text x="645.2" y="281" font-size="81" text-anchor="middle" letter-spacing="7.3" font-weight="900" fill="#fbeac0" stroke="#fbeac0" stroke-width="16.5" stroke-linejoin="round">加开定点加班车</text><text x="645.2" y="281" font-size="81" text-anchor="middle" letter-spacing="7.3" font-weight="900" fill="url(#gGoldH)">加开定点加班车</text><text x="645.2" y="281" font-size="81" text-anchor="middle" letter-spacing="7.3" font-weight="900" fill="url(#gGoldV)">加开定点加班车</text>
<rect x="141" y="206" width="198" height="91.5" rx="5" fill="#cfbadc" stroke="#ffffff" stroke-width="3.2"/>
<text transform="translate(143.5 282.5) scale(0.83 1)" font-size="89" fill="#231815" stroke="#231815" stroke-width="1.6" style="font-family:'Liberation Sans',sans-serif">10</text>
<text x="227" y="259.5" font-size="51" font-weight="500" fill="#231815" letter-spacing="1">号线</text>
<text x="227" y="288.5" font-size="28" font-weight="700" fill="#231815" style="font-family:'Liberation Sans',sans-serif">Line 10</text>
<path d="M57 1888 L57 434 Q57 376 115 376 L965 376 Q1023 376 1023 434 L1023 1888 Z" fill="#0e2f5c" opacity="0.55" filter="url(#fShadow)" transform="translate(2 3)"/>
<path d="M57 1888 L57 434 Q57 376 115 376 L965 376 Q1023 376 1023 434 L1023 1888 Z" fill="url(#gCard)"/>
<rect x="170" y="328" width="738" height="88" rx="44" fill="url(#gPill)"/>
<text x="543.5" y="385.5" font-size="54" font-weight="700" fill="#ffffff" text-anchor="middle" letter-spacing="5.9">定点加班车示意图</text>
<path d="M318 701 H394 C436 701 458 738 472 786" fill="none" stroke="#d2d2d2" stroke-width="16"/>
<path d="M371 692 L366 701 L371 710 M378 692 L373 701 L378 710" fill="none" stroke="#ffffff" stroke-width="2.2"/>
<circle cx="308" cy="701" r="10.5" fill="#ffffff" stroke="#a6a6a6" stroke-width="4"/>
<rect x="469.5" y="470" width="25.0" height="1160" fill="#bea7d3" stroke="#3a3144" stroke-width="1.8"/>
<rect x="474" y="1645" width="15.5" height="48" fill="#b9b9b9"/>
<path d="M472 1661 q4 -4 9 0 t9 0 M472 1667 q4 -4 9 0 t9 0" fill="none" stroke="#ffffff" stroke-width="2.2"/>
<circle cx="481.5" cy="1701" r="11.5" fill="#ffffff" stroke="#a6a6a6" stroke-width="5"/>
<g><polygon points="475.3,691.0 482.0,699.0 488.7,691.0 488.7,707.5 482.0,714.3 475.3,707.5" fill="#dccbe8" stroke="#ffffff" stroke-width="1.6" stroke-linejoin="miter"/><polygon points="475.3,727.9 482.0,735.9 488.7,727.9 488.7,744.4 482.0,751.2 475.3,744.4" fill="#cfb8e0" stroke="#ffffff" stroke-width="1.6" stroke-linejoin="miter"/><polygon points="475.3,762.0 482.0,770.0 488.7,762.0 488.7,778.5 482.0,785.3 475.3,778.5" fill="#d09ae6" stroke="#ffffff" stroke-width="1.6" stroke-linejoin="miter"/><polygon points="475.3,799.8 482.0,807.8 488.7,799.8 488.7,816.3 482.0,823.1 475.3,816.3" fill="#c06fdc" stroke="#ffffff" stroke-width="1.6" stroke-linejoin="miter"/><polygon points="475.3,839.0 482.0,847.0 488.7,839.0 488.7,855.5 482.0,862.3 475.3,855.5" fill="#bc68dd" stroke="#ffffff" stroke-width="1.6" stroke-linejoin="miter"/><polygon points="475.3,946.6 482.0,954.6 488.7,946.6 488.7,963.1 482.0,969.9 475.3,963.1" fill="#dccbea" stroke="#ffffff" stroke-width="1.6" stroke-linejoin="miter"/><polygon points="475.3,983.3 482.0,991.3 488.7,983.3 488.7,999.8 482.0,1006.6 475.3,999.8" fill="#bc68dd" stroke="#ffffff" stroke-width="1.6" stroke-linejoin="miter"/><polygon points="475.3,1102.6 482.0,1110.6 488.7,1102.6 488.7,1119.1 482.0,1125.9 475.3,1119.1" fill="#dccbea" stroke="#ffffff" stroke-width="1.6" stroke-linejoin="miter"/><polygon points="475.3,1139.3 482.0,1147.3 488.7,1139.3 488.7,1155.8 482.0,1162.6 475.3,1155.8" fill="#d49aea" stroke="#ffffff" stroke-width="1.6" stroke-linejoin="miter"/><polygon points="475.3,1178.8 482.0,1186.8 488.7,1178.8 488.7,1195.3 482.0,1202.1 475.3,1195.3" fill="#bc68dd" stroke="#ffffff" stroke-width="1.6" stroke-linejoin="miter"/><polygon points="475.3,1265.4 482.0,1273.4 488.7,1265.4 488.7,1281.9 482.0,1288.7 475.3,1281.9" fill="#d8b4ec" stroke="#ffffff" stroke-width="1.6" stroke-linejoin="miter"/><polygon points="475.3,1303.3 482.0,1311.3 488.7,1303.3 488.7,1319.8 482.0,1326.6 475.3,1319.8" fill="#bc68dd" stroke="#ffffff" stroke-width="1.6" stroke-linejoin="miter"/><polygon points="475.3,1399.0 482.0,1407.0 488.7,1399.0 488.7,1415.5 482.0,1422.3 475.3,1415.5" fill="#dccbea" stroke="#ffffff" stroke-width="1.6" stroke-linejoin="miter"/><polygon points="475.3,1433.6 482.0,1441.6 488.7,1433.6 488.7,1450.1 482.0,1456.9 475.3,1450.1" fill="#bc68dd" stroke="#ffffff" stroke-width="1.6" stroke-linejoin="miter"/><polygon points="475.3,1532.0 482.0,1540.0 488.7,1532.0 488.7,1548.5 482.0,1555.3 475.3,1548.5" fill="#dccbea" stroke="#ffffff" stroke-width="1.6" stroke-linejoin="miter"/><polygon points="475.3,1568.6 482.0,1576.6 488.7,1568.6 488.7,1585.1 482.0,1591.9 475.3,1585.1" fill="#bc68dd" stroke="#ffffff" stroke-width="1.6" stroke-linejoin="miter"/></g>
<rect x="401.0" y="448.25" width="165" height="43.5" rx="21.75" fill="#000" opacity="0.35" filter="url(#fSoft)"/><rect x="401.0" y="446.75" width="165" height="43.5" rx="21.75" fill="#bea7d3" stroke="#ffffff" stroke-width="2.6"/><text x="478.3" y="481.5" font-size="34" font-weight="700" fill="#231815" text-anchor="middle" letter-spacing="1.6">始发站</text>
<rect x="401.0" y="512.75" width="165" height="43.5" rx="21.75" fill="#000" opacity="0.35" filter="url(#fSoft)"/><rect x="401.0" y="511.25" width="165" height="43.5" rx="21.75" fill="#bea7d3" stroke="#ffffff" stroke-width="2.6"/><text x="483.3" y="546" font-size="34" font-weight="700" fill="#231815" text-anchor="middle" letter-spacing="1.6">上下客站</text>
<rect x="401.0" y="578.05" width="165" height="43.5" rx="21.75" fill="#000" opacity="0.35" filter="url(#fSoft)"/><rect x="401.0" y="576.55" width="165" height="43.5" rx="21.75" fill="#bea7d3" stroke="#ffffff" stroke-width="2.6"/><text x="483.3" y="611.3" font-size="34" font-weight="700" fill="#231815" text-anchor="middle" letter-spacing="1.6">上下客站</text>
<rect x="415.2" y="634.5" width="131.6" height="44" rx="22.0" fill="#000" opacity="0.35" filter="url(#fSoft)"/><rect x="415.2" y="633.0" width="131.6" height="44" rx="22.0" fill="#3e3e3e" stroke="#ffffff" stroke-width="2.6"/><text x="480.8" y="668" font-size="34" font-weight="700" fill="#ffffff" text-anchor="middle" letter-spacing="1.6">下客站</text>
<rect x="415.2" y="886.5" width="131.6" height="44" rx="22.0" fill="#000" opacity="0.35" filter="url(#fSoft)"/><rect x="415.2" y="885.0" width="131.6" height="44" rx="22.0" fill="#3e3e3e" stroke="#ffffff" stroke-width="2.6"/><text x="480.8" y="920" font-size="34" font-weight="700" fill="#ffffff" text-anchor="middle" letter-spacing="1.6">下客站</text>
<rect x="415.2" y="1026.5" width="131.6" height="44" rx="22.0" fill="#000" opacity="0.35" filter="url(#fSoft)"/><rect x="415.2" y="1025.0" width="131.6" height="44" rx="22.0" fill="#3e3e3e" stroke="#ffffff" stroke-width="2.6"/><text x="480.8" y="1060" font-size="34" font-weight="700" fill="#ffffff" text-anchor="middle" letter-spacing="1.6">下客站</text>
<rect x="415.2" y="1211.0" width="131.6" height="44" rx="22.0" fill="#000" opacity="0.35" filter="url(#fSoft)"/><rect x="415.2" y="1209.5" width="131.6" height="44" rx="22.0" fill="#3e3e3e" stroke="#ffffff" stroke-width="2.6"/><text x="480.8" y="1244.5" font-size="34" font-weight="700" fill="#ffffff" text-anchor="middle" letter-spacing="1.6">下客站</text>
<rect x="415.2" y="1348.2" width="131.6" height="44" rx="22.0" fill="#000" opacity="0.35" filter="url(#fSoft)"/><rect x="415.2" y="1346.7" width="131.6" height="44" rx="22.0" fill="#3e3e3e" stroke="#ffffff" stroke-width="2.6"/><text x="480.8" y="1381.7" font-size="34" font-weight="700" fill="#ffffff" text-anchor="middle" letter-spacing="1.6">下客站</text>
<rect x="415.2" y="1468.0" width="131.6" height="44" rx="22.0" fill="#000" opacity="0.35" filter="url(#fSoft)"/><rect x="415.2" y="1466.5" width="131.6" height="44" rx="22.0" fill="#3e3e3e" stroke="#ffffff" stroke-width="2.6"/><text x="480.8" y="1501.5" font-size="34" font-weight="700" fill="#ffffff" text-anchor="middle" letter-spacing="1.6">下客站</text>
<rect x="415.2" y="1607.5" width="131.6" height="44" rx="22.0" fill="#000" opacity="0.35" filter="url(#fSoft)"/><rect x="415.2" y="1606.0" width="131.6" height="44" rx="22.0" fill="#d4587d" stroke="#ffffff" stroke-width="2.6"/><text x="480.8" y="1641" font-size="34" font-weight="700" fill="#ffffff" text-anchor="middle" letter-spacing="1.6">终点站</text>
<text x="385" y="483.4" font-size="45.5" font-weight="700" fill="#1f1a17" text-anchor="end" letter-spacing="1.95">虹桥火车站</text>
<text x="385" y="544.4" font-size="45.5" font-weight="700" fill="#1f1a17" text-anchor="end" letter-spacing="2.1">虹桥<tspan font-weight="400" style="font-family:'Liberation Sans',sans-serif">2</tspan>号航站楼</text>
<text x="385" y="616.4" font-size="45.5" font-weight="700" fill="#1f1a17" text-anchor="end" letter-spacing="2.1">虹桥<tspan font-weight="400" style="font-family:'Liberation Sans',sans-serif">1</tspan>号航站楼</text>
<text x="381.5" y="672.9" font-size="45.5" font-weight="700" fill="#1f1a17" text-anchor="end" letter-spacing="2.5">上海动物园</text>
<text x="393" y="922.6" font-size="46" font-weight="700" fill="#1f1a17" text-anchor="end" letter-spacing="0.9">虹桥路</text>
<text x="393" y="1066.2" font-size="46" font-weight="700" fill="#1f1a17" text-anchor="end" letter-spacing="0.9">陕西南路</text>
<text x="385.5" y="1242.4" font-size="46" font-weight="700" fill="#1f1a17" text-anchor="end" letter-spacing="0.9">南京东路</text>
<text x="393.5" y="1388.6" font-size="46" font-weight="700" fill="#1f1a17" text-anchor="end" letter-spacing="0.9">海伦路</text>
<text x="393.5" y="1501.6" font-size="46" font-weight="700" fill="#1f1a17" text-anchor="end" letter-spacing="0.9">四平路</text>
<text x="393.5" y="1646.6" font-size="46" font-weight="700" fill="#1f1a17" text-anchor="end" letter-spacing="0.9">五角场</text>
<text x="269.00" y="738.8" font-size="25" font-weight="350" fill="#afafaf" letter-spacing="2.00">航中路</text>
<text x="523.00" y="718.2" font-size="25" font-weight="350" fill="#afafaf" letter-spacing="1.50">龙溪路</text>
<text x="318.20" y="781.8" font-size="25" font-weight="350" fill="#afafaf" letter-spacing="0.60">水城路</text>
<text x="318.80" y="821.8" font-size="25" font-weight="350" fill="#afafaf" letter-spacing="0.50">伊犁路</text>
<text x="317.80" y="862.8" font-size="25" font-weight="350" fill="#afafaf" letter-spacing="1.00">宋园路</text>
<text x="293.60" y="965.4" font-size="25" font-weight="350" fill="#afafaf" letter-spacing="0.13">交通大学</text>
<text x="267.60" y="1005.8" font-size="25" font-weight="350" fill="#afafaf" letter-spacing="0.80">上海图书馆</text>
<text x="200.80" y="1109.8" font-size="25" font-weight="350" fill="#afafaf" letter-spacing="0.04">一大会址·新天地</text>
<text x="314.60" y="1149.8" font-size="25" font-weight="350" fill="#afafaf" letter-spacing="-1.80">老西门</text>
<text x="337.00" y="1195.8" font-size="25" font-weight="350" fill="#afafaf" letter-spacing="-1.30">豫园</text>
<text x="310.80" y="1287.5" font-size="25" font-weight="350" fill="#afafaf" letter-spacing="-0.35">天潼路</text>
<text x="288.00" y="1331.5" font-size="25" font-weight="350" fill="#afafaf" letter-spacing="-1.10">四川北路</text>
<text x="296.60" y="1438.8" font-size="25" font-weight="350" fill="#afafaf" letter-spacing="-1.30">邮电新村</text>
<text x="298.00" y="1546.8" font-size="25" font-weight="350" fill="#afafaf" letter-spacing="-2.00">同济大学</text>
<text x="324.00" y="1587.8" font-size="25" font-weight="350" fill="#afafaf" letter-spacing="-1.50">国权路</text>
<text x="320.60" y="1706.8" font-size="25" font-weight="350" fill="#afafaf" letter-spacing="-0.45">基隆路</text>
<path d="M571 468.8 H662" stroke="#ababab" stroke-width="3.2" stroke-dasharray="10.2 6.8" fill="none"/>
<path d="M571 533 H662" stroke="#ababab" stroke-width="3.2" stroke-dasharray="10.2 6.8" fill="none"/>
<path d="M571 599.5 H662" stroke="#ababab" stroke-width="3.2" stroke-dasharray="10.2 6.8" fill="none"/>
<g transform="translate(662.8 440.5)"><rect x="0" y="1.5" width="52.7" height="52.7" rx="6.5" fill="#000" opacity="0.22" filter="url(#fSoft)"/><rect x="0" y="0" width="52.7" height="52.7" rx="6.5" fill="#f4f7fb"/><rect x="2" y="2" width="48.7" height="48.7" rx="4.5" fill="url(#gTrain)"/><g fill="none" stroke="#c8213b"><path d="M17.2 38.5 A15.3 15.3 0 1 1 34.6 38.5" stroke-width="4.6"/><path d="M21.5 7.2 H30.3" stroke-width="3.4"/><path d="M20.5 25.8 H31.3" stroke-width="6.6" stroke-linecap="round"/><path d="M25.9 26 V43" stroke-width="5"/></g><path d="M23.4 41 Q22.8 43.6 13 43.8 L13 47.4 L38.8 47.4 L38.8 43.8 Q29 43.6 28.4 41 Z" fill="#c8213b"/></g>
<g transform="translate(662.4 508)"><rect x="0" y="1.5" width="51.6" height="51.4" rx="6.5" fill="#000" opacity="0.22" filter="url(#fSoft)"/><rect x="0" y="0" width="51.6" height="51.4" rx="6.5" fill="#f4f9ec"/><rect x="2" y="2" width="47.6" height="47.4" rx="4.5" fill="#8cc63f"/><path d="M25.6 4.8 Q28.3 4.8 28.3 10 L28.3 20.5 L46.6 31.6 L46.6 36.3 L28.3 30.8 L28.3 38.5 L32 41.5 L32 45.6 L25.6 43.6 L19.2 45.6 L19.2 41.5 L22.9 38.5 L22.9 30.8 L4.6 36.3 L4.6 31.6 L22.9 20.5 L22.9 10 Q22.9 4.8 25.6 4.8 Z" fill="#404040"/></g>
<g transform="translate(662.4 574.5)"><rect x="0" y="1.5" width="51.6" height="51.4" rx="6.5" fill="#000" opacity="0.22" filter="url(#fSoft)"/><rect x="0" y="0" width="51.6" height="51.4" rx="6.5" fill="#f4f9ec"/><rect x="2" y="2" width="47.6" height="47.4" rx="4.5" fill="#8cc63f"/><path d="M25.6 4.8 Q28.3 4.8 28.3 10 L28.3 20.5 L46.6 31.6 L46.6 36.3 L28.3 30.8 L28.3 38.5 L32 41.5 L32 45.6 L25.6 43.6 L19.2 45.6 L19.2 41.5 L22.9 38.5 L22.9 30.8 L4.6 36.3 L4.6 31.6 L22.9 20.5 L22.9 10 Q22.9 4.8 25.6 4.8 Z" fill="#404040"/></g>
<text x="726.3" y="482" font-size="35.4" font-weight="500" fill="#235690" stroke="#235690" stroke-width="0.8" letter-spacing="1.85">上海虹桥站</text>
<text x="734" y="545.5" font-size="35" font-weight="500" fill="#235690" letter-spacing="2.8">虹桥国际机场<tspan dx="-2" letter-spacing="0" style="font-family:'Liberation Sans',sans-serif" font-size="36" font-weight="400" textLength="39.5" lengthAdjust="spacingAndGlyphs">T2</tspan></text>
<text x="734" y="612" font-size="35" font-weight="500" fill="#235690" letter-spacing="2.8">虹桥国际机场<tspan dx="-2" letter-spacing="0" style="font-family:'Liberation Sans',sans-serif" font-size="36" font-weight="400" textLength="32.5" lengthAdjust="spacingAndGlyphs">T1</tspan></text>
<text x="81.3" y="907.5" font-size="31.5" font-weight="400" fill="#bda8d4" text-anchor="middle">列</text><text x="81.3" y="943.0" font-size="31.5" font-weight="400" fill="#bda8d4" text-anchor="middle">车</text><text x="81.3" y="978.5" font-size="31.5" font-weight="400" fill="#bda8d4" text-anchor="middle">运</text><text x="81.3" y="1014.0" font-size="31.5" font-weight="400" fill="#bda8d4" text-anchor="middle">行</text><text x="81.3" y="1049.5" font-size="31.5" font-weight="400" fill="#bda8d4" text-anchor="middle">方</text><text x="81.3" y="1085.0" font-size="31.5" font-weight="400" fill="#bda8d4" text-anchor="middle">向</text><polygon points="72.6,1099 90.0,1099 90.0,1123 105.9,1110 105.9,1132 81.3,1153.5 56.7,1132 56.7,1110 72.6,1123" fill="#bda8d4"/>
<text x="996" y="907.5" font-size="31.5" font-weight="400" fill="#bda8d4" text-anchor="middle">列</text><text x="996" y="943.0" font-size="31.5" font-weight="400" fill="#bda8d4" text-anchor="middle">车</text><text x="996" y="978.5" font-size="31.5" font-weight="400" fill="#bda8d4" text-anchor="middle">运</text><text x="996" y="1014.0" font-size="31.5" font-weight="400" fill="#bda8d4" text-anchor="middle">行</text><text x="996" y="1049.5" font-size="31.5" font-weight="400" fill="#bda8d4" text-anchor="middle">方</text><text x="996" y="1085.0" font-size="31.5" font-weight="400" fill="#bda8d4" text-anchor="middle">向</text><polygon points="987.3,1099 1004.7,1099 1004.7,1123 1020.6,1110 1020.6,1132 996.0,1153.5 971.4,1132 971.4,1110 987.3,1123" fill="#bda8d4"/>
<rect x="230" y="1888" width="200" height="14" fill="#5b96d2"/>
<path d="M380 1877 L410 1847 L437 1832 L457 1827 L470 1835 L493 1813 L520 1793 L547 1777 L577 1754 L600 1770 L620 1780 L647 1792 L660 1785 L673 1770 L700 1747 L723 1743 L733 1744 L757 1767 L780 1757 L800 1763 L830 1733 L873 1707 L907 1730 L937 1737 L960 1717 L973 1703 L1000 1667 L1020 1638 L1053 1633 L1080 1628" fill="none" stroke="#a8763a" stroke-width="14" opacity="0.55" filter="url(#fSoft3)" stroke-linejoin="round"/>
<linearGradient id="gGm" x1="0" y1="0" x2="0" y2="1"><stop offset="0" stop-color="#3f9386"/><stop offset="0.28" stop-color="#57ad7f"/><stop offset="0.6" stop-color="#82d884"/><stop offset="1" stop-color="#88dc84"/></linearGradient><linearGradient id="gGmD" x1="0" y1="0" x2="0" y2="1"><stop offset="0" stop-color="#27708c"/><stop offset="0.55" stop-color="#33848a"/><stop offset="1" stop-color="#58ae80"/></linearGradient><linearGradient id="gGm3" x1="0" y1="0" x2="0" y2="1"><stop offset="0" stop-color="#3f9386"/><stop offset="0.35" stop-color="#4fa582"/><stop offset="0.75" stop-color="#72c684"/><stop offset="1" stop-color="#84d884"/></linearGradient><path d="M380 1877 L410 1847 L437 1832 L457 1827 L470 1835 L493 1813 L520 1793 L547 1777 L547 1975 L380 1975 Z" fill="url(#gGm)"/><path d="M547 1777 L577 1754 L600 1770 L620 1780 L647 1792 L660 1785 L673 1770 L700 1747 L723 1743 L733 1744 L757 1767 L757 1975 L547 1975 Z" fill="url(#gGm)"/><path d="M757 1767 L780 1757 L800 1763 L830 1733 L873 1707 L907 1730 L937 1737 L960 1717 L973 1703 L1000 1667 L1020 1638 L1053 1633 L1080 1628 L1080 1975 L757 1975 Z" fill="url(#gGm3)"/><path d="M380 1877 L410 1847 L437 1832 L457 1827 L470 1835 L493 1813 L520 1793 L547 1777 L577 1754 L600 1770 L620 1780 L647 1792 L660 1785 L673 1770 L700 1747 L723 1743 L733 1744 L757 1767 L780 1757 L800 1763 L830 1733 L873 1707 L907 1730 L937 1737 L960 1717 L973 1703 L1000 1667 L1020 1638 L1053 1633 L1080 1628" fill="none" stroke="#f6e7bd" stroke-width="2" stroke-linejoin="round"/>
<g fill="url(#gGmD)" stroke="#f1e2b6" stroke-width="1.3" stroke-linejoin="round"><path d="M702 1748 L723 1743 L733 1744 L757 1767 L762 1790 L790 1800 L800 1830 L775 1850 L760 1893 L680 1917 L673 1887 L727 1817 L713 1787 L700 1773 Z"/><path d="M873 1707 L907 1730 L933 1740 L915 1760 L890 1775 L870 1745 L862 1730 Z"/><path d="M1020 1638 L1053 1633 L1080 1628 L1080 1893 L1003 1893 L1037 1830 L1040 1815 L1000 1800 L1010 1750 L1053 1710 L1043 1680 L1030 1655 Z"/><path d="M513 1797 L543 1779 L533 1810 L520 1833 L500 1850 Z"/><path d="M620 1847 L643 1830 L650 1853 Z"/><path d="M667 1777 L680 1763 L687 1777 Z"/><path d="M493 1813 L470 1835 L457 1828 L475 1850 L450 1870 L490 1850 Z"/></g>
<g fill="#88dc84" stroke="#f1e2b6" stroke-width="1.3" stroke-linejoin="round"><path d="M723 1750 L745 1775 L790 1790 L850 1800 L927 1798 L905 1813 L860 1822 L800 1836 L770 1826 L790 1815 L755 1800 L740 1785 Z"/></g>
<g fill="none" stroke="#f1e2b6" stroke-width="1.2" stroke-linejoin="round" stroke-linecap="round"><path d="M830 1733 Q815 1760 800 1768 Q830 1770 850 1760 Q880 1790 935 1745"/><path d="M937 1737 Q930 1790 900 1800 Q880 1840 850 1860 L835 1890"/><path d="M1000 1667 Q1010 1700 990 1720 Q960 1740 950 1780 Q940 1830 900 1860 L880 1890"/><path d="M547 1777 Q540 1810 500 1840 Q540 1830 560 1850 Q590 1860 620 1870"/><path d="M647 1792 Q640 1820 610 1850 Q600 1870 590 1890"/><path d="M800 1890 Q840 1850 900 1830 M860 1893 Q920 1850 1000 1820 M940 1893 Q980 1860 1040 1850"/></g>
<path d="M577 1755 L613 1773 L643 1793 L620 1787 L597 1780 L577 1783 L587 1773 L577 1767 Z" fill="#cfe0ea"/>
<path d="M757 1767 L775 1758 L792 1766 L780 1773 Z" fill="#cfe0ea"/>
<path d="M0 1683 L12 1698 L33 1710 L43 1723 L73 1760 L100 1783 L128 1802 L147 1828 L173 1822 L193 1807 L213 1830 L240 1860 L270 1887 L310 1905 L310 1975 L0 1975 Z" fill="url(#gBlueMt)" stroke="#f6e7bd" stroke-width="1.6" stroke-linejoin="round"/>
<g fill="#0096d2" stroke="#f1e2b6" stroke-width="1.1" stroke-linejoin="round"><path d="M0 1684 L12 1698 L33 1710 L43 1723 L70 1760 L40 1730 L25 1722 L30 1762 L12 1712 L0 1700 Z"/><path d="M70 1768 L100 1790 L128 1802 L147 1828 L132 1848 L125 1860 L115 1900 L106 1910 L108 1880 L104 1850 L75 1868 L95 1842 L110 1822 L100 1808 L70 1800 L55 1812 L62 1792 L80 1782 Z"/><path d="M186 1812 L193 1807 L213 1830 L240 1860 L268 1886 L240 1880 L215 1862 L195 1840 L205 1866 L225 1886 L200 1870 L190 1845 Z"/></g>
<path d="M140 1975 L140 1962 L160 1950 L173 1937 L190 1933 L193 1917 L210 1914 L233 1893 L260 1887 L277 1893 L300 1890 L303 1872 L322 1868 L340 1880 L350 1872 L372 1866 L392 1880 L410 1886 L430 1896 L470 1892 L492 1876 L520 1868 L548 1874 L575 1868 L600 1876 L627 1884 L650 1896 L690 1910 L730 1930 L760 1975 Z" fill="#5e9f52" stroke="#f6edc6" stroke-width="1.2"/>
<g fill="#f6edc6" stroke="#f6edc6" stroke-width="2.8"><ellipse cx="250" cy="1902" rx="14" ry="9"/><ellipse cx="266" cy="1897" rx="9" ry="8"/><ellipse cx="240" cy="1908" rx="10" ry="7"/></g><g fill="#5e9f52"><ellipse cx="250" cy="1902" rx="14" ry="9"/><ellipse cx="266" cy="1897" rx="9" ry="8"/><ellipse cx="240" cy="1908" rx="10" ry="7"/></g>
<g fill="#f6edc6" stroke="#f6edc6" stroke-width="2.8"><ellipse cx="318" cy="1880" rx="14" ry="8"/><ellipse cx="330" cy="1874" rx="8" ry="7"/><ellipse cx="308" cy="1886" rx="9" ry="6"/></g><g fill="#5e9f52"><ellipse cx="318" cy="1880" rx="14" ry="8"/><ellipse cx="330" cy="1874" rx="8" ry="7"/><ellipse cx="308" cy="1886" rx="9" ry="6"/></g>
<g fill="#f6edc6" stroke="#f6edc6" stroke-width="2.8"><ellipse cx="365" cy="1882" rx="15" ry="10"/><ellipse cx="382" cy="1890" rx="12" ry="9"/><ellipse cx="352" cy="1890" rx="10" ry="8"/><ellipse cx="372" cy="1898" rx="14" ry="8"/></g><g fill="#5e9f52"><ellipse cx="365" cy="1882" rx="15" ry="10"/><ellipse cx="382" cy="1890" rx="12" ry="9"/><ellipse cx="352" cy="1890" rx="10" ry="8"/><ellipse cx="372" cy="1898" rx="14" ry="8"/></g>
<g fill="#f6edc6" stroke="#f6edc6" stroke-width="2.8"><ellipse cx="214" cy="1926" rx="16" ry="10"/><ellipse cx="236" cy="1920" rx="14" ry="10"/><ellipse cx="258" cy="1926" rx="16" ry="11"/><ellipse cx="283" cy="1918" rx="17" ry="11"/><ellipse cx="306" cy="1910" rx="16" ry="10"/><ellipse cx="330" cy="1904" rx="18" ry="11"/><ellipse cx="352" cy="1912" rx="16" ry="11"/><ellipse cx="374" cy="1920" rx="16" ry="10"/><ellipse cx="398" cy="1916" rx="18" ry="11"/><ellipse cx="420" cy="1924" rx="14" ry="9"/><ellipse cx="300" cy="1926" rx="40" ry="10"/><ellipse cx="360" cy="1930" rx="40" ry="9"/></g><g fill="url(#gBush)"><ellipse cx="214" cy="1926" rx="16" ry="10"/><ellipse cx="236" cy="1920" rx="14" ry="10"/><ellipse cx="258" cy="1926" rx="16" ry="11"/><ellipse cx="283" cy="1918" rx="17" ry="11"/><ellipse cx="306" cy="1910" rx="16" ry="10"/><ellipse cx="330" cy="1904" rx="18" ry="11"/><ellipse cx="352" cy="1912" rx="16" ry="11"/><ellipse cx="374" cy="1920" rx="16" ry="10"/><ellipse cx="398" cy="1916" rx="18" ry="11"/><ellipse cx="420" cy="1924" rx="14" ry="9"/><ellipse cx="300" cy="1926" rx="40" ry="10"/><ellipse cx="360" cy="1930" rx="40" ry="9"/></g>
<g fill="#f6edc6" stroke="#f6edc6" stroke-width="2.8"><ellipse cx="520" cy="1890" rx="18" ry="11"/><ellipse cx="545" cy="1884" rx="16" ry="10"/><ellipse cx="570" cy="1890" rx="18" ry="11"/><ellipse cx="596" cy="1896" rx="16" ry="10"/><ellipse cx="616" cy="1904" rx="14" ry="9"/><ellipse cx="500" cy="1900" rx="14" ry="9"/><ellipse cx="540" cy="1904" rx="40" ry="10"/><ellipse cx="585" cy="1910" rx="30" ry="9"/></g><g fill="url(#gBush)"><ellipse cx="520" cy="1890" rx="18" ry="11"/><ellipse cx="545" cy="1884" rx="16" ry="10"/><ellipse cx="570" cy="1890" rx="18" ry="11"/><ellipse cx="596" cy="1896" rx="16" ry="10"/><ellipse cx="616" cy="1904" rx="14" ry="9"/><ellipse cx="500" cy="1900" rx="14" ry="9"/><ellipse cx="540" cy="1904" rx="40" ry="10"/><ellipse cx="585" cy="1910" rx="30" ry="9"/></g>
<g fill="#f6edc6" stroke="#f6edc6" stroke-width="2.8"><ellipse cx="440" cy="1912" rx="16" ry="10"/><ellipse cx="462" cy="1906" rx="15" ry="10"/><ellipse cx="484" cy="1912" rx="15" ry="9"/><ellipse cx="460" cy="1920" rx="34" ry="9"/></g><g fill="url(#gBush)"><ellipse cx="440" cy="1912" rx="16" ry="10"/><ellipse cx="462" cy="1906" rx="15" ry="10"/><ellipse cx="484" cy="1912" rx="15" ry="9"/><ellipse cx="460" cy="1920" rx="34" ry="9"/></g>
<g fill="#f6edc6" stroke="#f6edc6" stroke-width="2.8"><ellipse cx="640" cy="1918" rx="15" ry="9"/><ellipse cx="660" cy="1926" rx="13" ry="8"/><ellipse cx="650" cy="1932" rx="22" ry="7"/></g><g fill="url(#gBush)"><ellipse cx="640" cy="1918" rx="15" ry="9"/><ellipse cx="660" cy="1926" rx="13" ry="8"/><ellipse cx="650" cy="1932" rx="22" ry="7"/></g>
<linearGradient id="gBand" x1="0" y1="1925" x2="0" y2="1968" gradientUnits="userSpaceOnUse"><stop offset="0" stop-color="#5e9f52"/><stop offset="1" stop-color="#9ad06e"/></linearGradient><path d="M150 1975 L176 1950 Q220 1936 270 1942 Q330 1930 400 1940 Q450 1920 520 1924 Q580 1916 640 1930 Q700 1930 740 1975 Z" fill="url(#gBand)"/>
<g fill="#f6edc6" stroke="#f6edc6" stroke-width="2.8"><ellipse cx="356" cy="1958" rx="14" ry="9"/><ellipse cx="376" cy="1952" rx="14" ry="9"/><ellipse cx="396" cy="1958" rx="14" ry="9"/><ellipse cx="376" cy="1966" rx="30" ry="8"/></g><g fill="url(#gBush)"><ellipse cx="356" cy="1958" rx="14" ry="9"/><ellipse cx="376" cy="1952" rx="14" ry="9"/><ellipse cx="396" cy="1958" rx="14" ry="9"/><ellipse cx="376" cy="1966" rx="30" ry="8"/></g>
<g fill="#f6edc6" stroke="#f6edc6" stroke-width="2.8"><ellipse cx="424" cy="1956" rx="14" ry="9"/><ellipse cx="446" cy="1950" rx="16" ry="10"/><ellipse cx="470" cy="1956" rx="14" ry="9"/><ellipse cx="446" cy="1966" rx="34" ry="8"/></g><g fill="url(#gBush)"><ellipse cx="424" cy="1956" rx="14" ry="9"/><ellipse cx="446" cy="1950" rx="16" ry="10"/><ellipse cx="470" cy="1956" rx="14" ry="9"/><ellipse cx="446" cy="1966" rx="34" ry="8"/></g>
<g fill="#f6edc6" stroke="#f6edc6" stroke-width="2.8"><ellipse cx="196" cy="1962" rx="14" ry="8"/><ellipse cx="218" cy="1958" rx="14" ry="8"/><ellipse cx="238" cy="1964" rx="12" ry="7"/></g><g fill="url(#gBush)"><ellipse cx="196" cy="1962" rx="14" ry="8"/><ellipse cx="218" cy="1958" rx="14" ry="8"/><ellipse cx="238" cy="1964" rx="12" ry="7"/></g>
<g fill="#f6edc6" stroke="#f6edc6" stroke-width="2.8"><ellipse cx="560" cy="1950" rx="16" ry="9"/><ellipse cx="584" cy="1944" rx="16" ry="10"/><ellipse cx="608" cy="1952" rx="14" ry="9"/><ellipse cx="584" cy="1962" rx="34" ry="8"/></g><g fill="url(#gBush)"><ellipse cx="560" cy="1950" rx="16" ry="9"/><ellipse cx="584" cy="1944" rx="16" ry="10"/><ellipse cx="608" cy="1952" rx="14" ry="9"/><ellipse cx="584" cy="1962" rx="34" ry="8"/></g>
<linearGradient id="gFoot" x1="0" y1="1891" x2="0" y2="2001" gradientUnits="userSpaceOnUse"><stop offset="0" stop-color="#f4e5de"/><stop offset="0.75" stop-color="#ffffff"/></linearGradient><path d="M0 1963 L540 1963 C640 1963 640 1891 760 1891 L1080 1891 L1080 2001 L0 2001 Z" fill="url(#gFoot)"/>
<rect x="0" y="1969" width="50.5" height="12" fill="#c8203a"/><rect x="50" y="1969" width="55.5" height="12" fill="#8cc63f"/><rect x="105" y="1969" width="54.5" height="12" fill="#f7d117"/><rect x="159" y="1969" width="54.5" height="12" fill="#4b2e83"/><rect x="213" y="1969" width="54.5" height="12" fill="#7b5393"/><rect x="267" y="1969" width="55.5" height="12" fill="#d6137c"/><rect x="322" y="1969" width="54.5" height="12" fill="#d87826"/><rect x="376" y="1969" width="54.5" height="12" fill="#1299d6"/><rect x="430" y="1969" width="55.5" height="12" fill="#7cc4ee"/><rect x="485" y="1969" width="54.5" height="12" fill="#b8a3d6"/>
<path d="M539 1975 C640 1975 640 1903 760 1903" fill="none" stroke="#7a1f35" stroke-width="12" stroke-dasharray="62 400"/>
<path d="M539 1975 C640 1975 640 1903 760 1903" fill="none" stroke="#2a8068" stroke-width="12" stroke-dasharray="0 62 62 400"/>
<path d="M539 1975 C640 1975 640 1903 760 1903" fill="none" stroke="#e89ac8" stroke-width="12" stroke-dasharray="0 124 62 400"/>
<path d="M539 1975 C640 1975 640 1903 760 1903" fill="none" stroke="#6b6a3a" stroke-width="12" stroke-dasharray="0 186 120 400"/>
<rect x="755" y="1897" width="55.5" height="12" fill="#b5a080"/><rect x="810" y="1897" width="54.5" height="12" fill="#8fd1c4"/><rect x="864" y="1897" width="54.5" height="12" fill="#b57a7a"/><rect x="918" y="1897" width="54.5" height="12" fill="#c8973a"/><rect x="972" y="1897" width="55.0" height="12" fill="#b0b0b0"/><rect x="1026.5" y="1897" width="28.0" height="12" fill="#d87826"/><rect x="1054" y="1897" width="26.5" height="12" fill="#2a7f8f"/>
<g id="logo" fill="none" stroke="#de3a3f"><circle cx="693.8" cy="1961.5" r="20" stroke-width="5.6"/><path d="M674 1967.5 L680.5 1967.5 L688 1954.5 L694 1963 L700 1954.5 L707.5 1966 L714 1961" stroke-width="5.2" stroke-linejoin="miter"/><path d="M677 1972 L683 1972 L688.5 1962.5 L694 1970.5 L699.5 1962.5 L705 1971" stroke="#fdf4f0" stroke-width="2.4"/></g>
<text x="727" y="1964.5" font-size="30.5" font-weight="900" fill="#111111" letter-spacing="-0.4">上海地铁</text>
<text x="726.5" y="1982" font-size="18.5" font-weight="400" fill="#111111" stroke="#111111" stroke-width="0.35" style="font-family:'Liberation Sans',sans-serif" textLength="121" lengthAdjust="spacingAndGlyphs">Shanghai Metro</text>
<rect x="866.2" y="1919" width="1.2" height="82" fill="#c4bab6"/>
<text x="880.5" y="1953" font-size="29" font-weight="900" fill="#d9232e" class="serif">申</text>
<text x="910" y="1952.5" font-size="20.8" font-weight="900" fill="#1a1a1a" class="serif">城地铁</text>
<text x="908.5" y="1989" font-size="29" font-weight="900" fill="#d9232e" class="serif">通</text>
<text x="940" y="1988" font-size="20.8" font-weight="900" fill="#1a1a1a" class="serif">向都市新生活</text>
<g opacity="0.55" fill="#a4a8ae"><ellipse cx="653" cy="1952.5" rx="14.5" ry="12"/><path d="M644 1962 L641 1969 L650 1964 Z"/><ellipse cx="663" cy="1962" rx="10.5" ry="9"/><text y="1967" font-size="27" font-weight="400" letter-spacing="0.7"><tspan x="689">公众号</tspan><tspan x="787"> · </tspan><tspan x="815.7">上海地铁</tspan><tspan x="928.7" style="font-family:'Liberation Sans',sans-serif" textLength="116" lengthAdjust="spacing">shmetro</tspan></text></g>

</svg>
</body>
</html>
